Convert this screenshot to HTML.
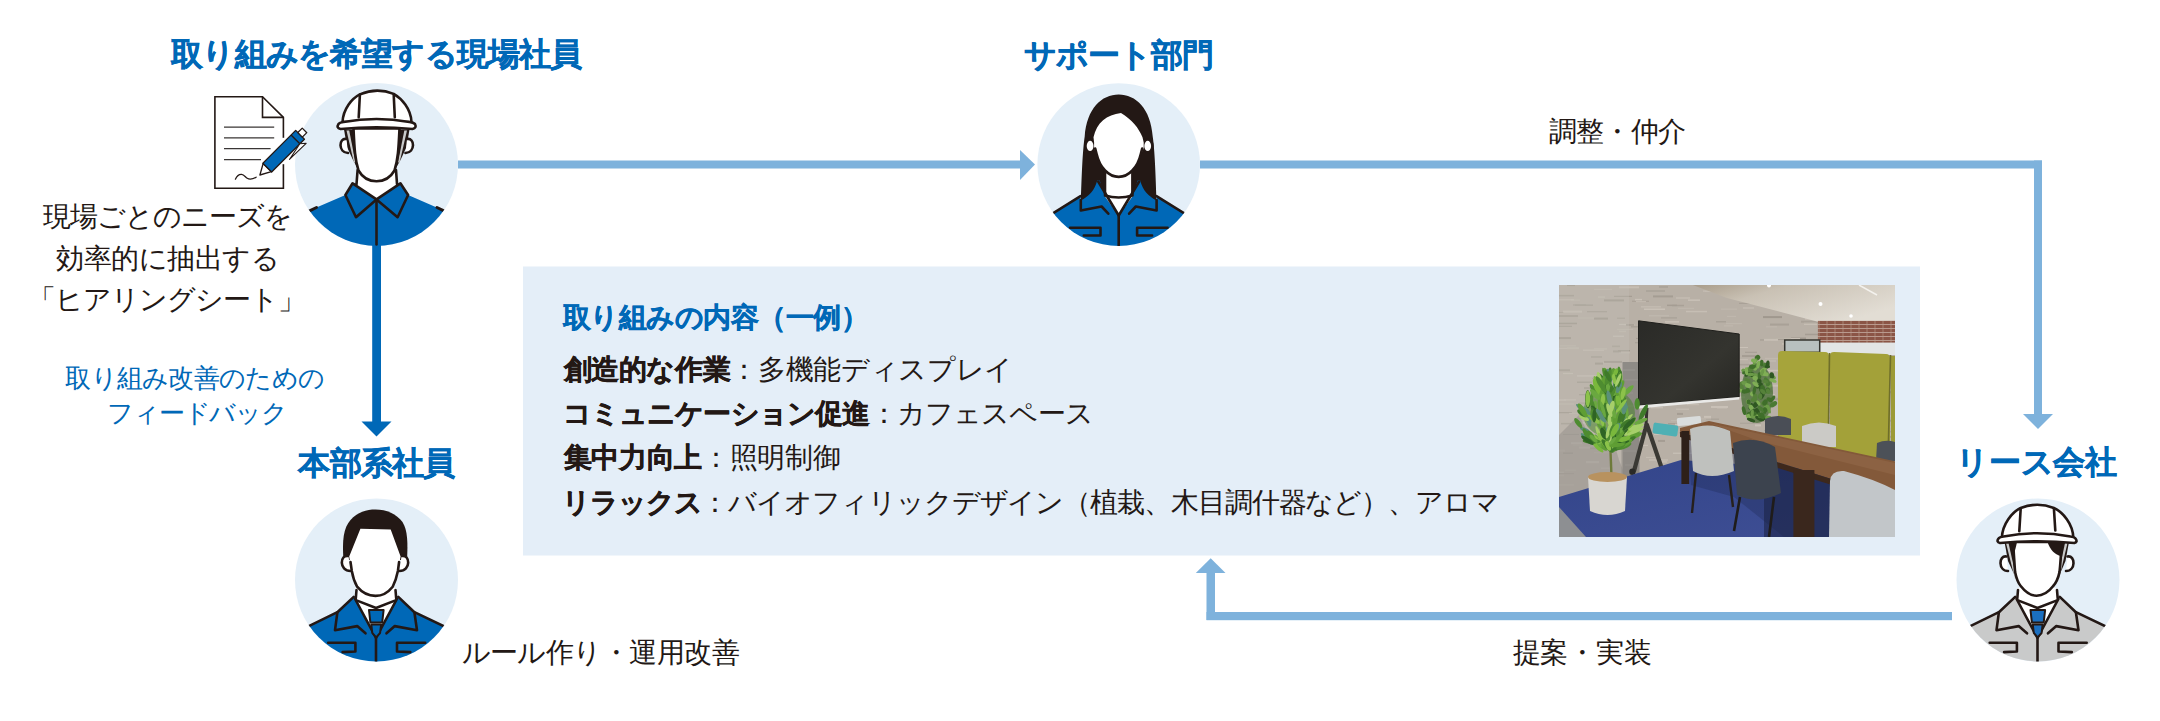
<!DOCTYPE html>
<html lang="ja">
<head>
<meta charset="utf-8">
<title>取り組みの流れ</title>
<style>
html,body{margin:0;padding:0;background:#fff;}
body{width:2160px;height:721px;position:relative;overflow:hidden;font-family:"Liberation Sans",sans-serif;color:#231815;}
svg.bg{position:absolute;left:0;top:0;}
.t{position:absolute;white-space:nowrap;line-height:1;}
.h{font-weight:bold;color:#0068b7;font-size:32px;-webkit-text-stroke:0.45px #0068b7;}
.n{font-size:27.5px;}
.b{font-size:25.7px;color:#0068b7;}
.bh{font-size:27.5px;font-weight:bold;color:#0068b7;-webkit-text-stroke:0.4px #0068b7;}
b{-webkit-text-stroke:0.4px #231815;}
</style>
</head>
<body>
<svg class="bg" width="2160" height="721" viewBox="0 0 2160 721">
  <!-- content box -->
  <rect x="523" y="266.5" width="1397" height="289" fill="#e4eef8"/>
  <!-- circles -->
  <circle cx="376.5" cy="164.5" r="81.5" fill="#e4eff8"/>
  <circle cx="1118.7" cy="164.5" r="81.3" fill="#e4eff8"/>
  <circle cx="376.5" cy="580" r="81.5" fill="#e4eff8"/>
  <circle cx="2038" cy="580" r="81.5" fill="#e4eff8"/>
  <!-- light arrows -->
  <g fill="#7eb2dc">
    <rect x="458" y="160.5" width="563" height="8"/>
    <polygon points="1020,150 1035,164.5 1020,180"/>
    <rect x="1200" y="160.5" width="842" height="8"/>
    <rect x="2034" y="160.5" width="8" height="254"/>
    <polygon points="2023,414 2053,414 2038,429"/>
    <rect x="1206.5" y="612" width="745.5" height="8.2"/>
    <rect x="1206.5" y="572" width="8.5" height="48"/>
    <polygon points="1195.8,573 1225.5,573 1210.7,558.3"/>
  </g>
  <!-- dark arrow -->
  <g fill="#0068b7">
    <rect x="372.2" y="240" width="8.8" height="182"/>
    <polygon points="361.5,421.6 391.5,421.6 376.5,436.6"/>
  </g>

  <defs>
    <clipPath id="cc"><circle cx="0" cy="0" r="81.4"/></clipPath>
  </defs>
  <!-- FIG1: helmet worker, blue -->
  <g transform="translate(376.5,164.5)" stroke="#231815" stroke-width="2.6" stroke-linejoin="round" stroke-linecap="round">
    <g clip-path="url(#cc)">
      <path d="M-95 58 L-31.1 30.5 L-23.9 18.8 L23.9 18.8 L31.6 30.5 L95 58.2 L95 95 L-95 95Z" fill="#0068b7" stroke="none"/>
      <path d="M-68 46.8 L-60 43" stroke-width="3"/>
      <path d="M68.5 46.8 L60.5 43" stroke-width="3"/>
      <path d="M-19 0 L-20 22 L0 35 L20.5 22 L19.5 0Z" fill="#fff" stroke="none"/>
      <path d="M-18.9 5.5 L-20 19.9 M19.5 5.5 L20.5 19.4" fill="none"/>
      <path d="M-23.9 18.8 L-31.1 30.5 L-20.5 52.7 L0 34.9Z" fill="#0068b7"/>
      <path d="M23.9 18.8 L31.6 30.5 L21.1 52.7 L0 34.9Z" fill="#0068b7"/>
      <path d="M0 34.9 L0 80" fill="none"/>
    </g>
    <path d="M-32.5 -35 L-21.5 -35 L-19 3.5 L-23.5 -4.5 L-29.5 -17.5Z" fill="#231815" stroke="none"/>
    <path d="M33 -35 L22 -35 L19.5 3.5 L24 -4.5 L30 -17.5Z" fill="#231815" stroke="none"/>
    <path d="M-30 -34 L-27.3 -34 L-21 -2 L-22.6 -2Z" fill="#c9caca" stroke="none"/>
    <path d="M30.5 -34 L27.8 -34 L21.5 -2 L23.1 -2Z" fill="#c9caca" stroke="none"/>
    <path d="M-30 -25.5 C-38 -27 -38.5 -12 -28.5 -11.5" fill="#fff"/>
    <path d="M30.5 -25.5 C38.5 -27 39 -12 29 -11.5" fill="#fff"/>
    <path d="M-23 -36 C-22 -15 -21.5 -5 -18 6 C-14 13 -7 16.8 0 16.8 C7 16.8 14 13 18 6 C21.5 -5 22 -15 23 -36Z" fill="#fff"/>
    <path d="M-34 -42.5 C-33.3 -56 -24.5 -66 -16.6 -70.1 Q0.3 -77.3 17.2 -70.6 C25 -66 34.3 -56 35 -42.5Z" fill="#fff"/>
    <path d="M-36 -35.5 Q-40.5 -36.5 -38 -40.5 Q-37 -42 -33 -42.5 Q0 -48.5 33 -42.5 Q37 -42 38.5 -40.5 Q40.5 -36.5 36 -35.5 Q0 -39.1 -36 -35.5Z" fill="#fff"/>
    <path d="M-16.6 -70 L-17.8 -47.3 M17.2 -70 L18.3 -47.3" fill="none"/>
  </g>
  <!-- FIG2: woman -->
  <g transform="translate(1118.7,164.5)" stroke="#231815" stroke-width="2.6" stroke-linejoin="round" stroke-linecap="round">
    <path d="M-38 42 C-37 10 -36 -15 -34 -28 C-32 -56 -17 -70 0 -70 C17 -70 32 -56 34 -28 C36 -15 37 10 38 42Z" fill="#231815" stroke="none"/>
    <g clip-path="url(#cc)">
      <path d="M-95 96 L-95 67.1 L-38.2 31.6 L-38 38 L38 38 L37.8 31.6 L95 67.1 L95 96Z" fill="#0068b7" stroke="none"/>
      <path d="M-90 64 L-38.2 31.6 M90 64 L37.8 31.6" fill="none" stroke-width="2.6"/>
      <path d="M-21.5 16 L-19 16 L-13.5 32 L0 51 L-10.4 49.2 L-17.1 42 L-37.9 46 L-37.9 36 C-30 32 -24 26 -21.5 16Z" fill="#0068b7" stroke="none"/>
      <path d="M21.5 16 L19 16 L13.5 32 L0 51 L10.4 49.2 L17.1 42 L37.9 46 L37.9 36 C30 32 24 26 21.5 16Z" fill="#0068b7" stroke="none"/>
      <path d="M-13.7 4 L-13.7 32 L0 51 L13.7 32 L13.7 4Z" fill="#fff" stroke="none"/>
      <path d="M-13.7 8 L-13.7 30 M13.7 8 L13.7 30" fill="none"/>
      <path d="M-13.7 31 Q0 35 13.7 31" fill="none"/>
      <path d="M-20.5 17 L0 51 L20.5 17" fill="none" stroke-width="2.6"/>
      <path d="M-37.9 35.5 L-37.9 46 L-17.1 42 L-10.4 49.2 M37.9 35.5 L37.9 46 L17.1 42 L10.4 49.2" fill="none" stroke-width="2.6"/>
      <path d="M0 51 L0 82" fill="none"/>
      <path d="M-48.7 63.2 L-18.2 63.2 L-18.2 71 L-34.9 71 M48.9 63.2 L18.4 63.2 L18.4 71 L33.4 71" fill="none" stroke-width="2.6"/>
    </g>
    <ellipse cx="-28.6" cy="-18.6" rx="4.7" ry="6.4" fill="#fff"/>
    <ellipse cx="29" cy="-18.6" rx="4.7" ry="6.4" fill="#fff"/>
    <path d="M-25.2 -27.2 C-22 -42 -12 -50 2.3 -51.6 C13 -45 20 -37 23.8 -27.2 L25 -22 L25 -16 L22.1 -10.5 C19 3 10 12.4 0 12.4 C-10 12.4 -19 3 -22.1 -10.5 L-24.6 -16 L-24.6 -22Z" fill="#fff" stroke="none"/>
    <path d="M-23.5 -16 L-22.1 -10.5 C-19 3 -10 12.4 0 12.4 C10 12.4 19 3 22.1 -10.5 L23.5 -16" fill="none"/>
  </g>


  <!-- DOCUMENT ICON -->
  <g stroke="#231815" stroke-linejoin="miter" fill="none">
    <path d="M214.9 96.8 L262.5 96.8 L283.4 117.4 L283.4 188.3 L214.9 188.3Z" fill="#fff" stroke-width="1.6"/>
    <path d="M262.5 96.8 L262.5 117.4 L283.4 117.4" stroke-width="1.6"/>
    <path d="M224 127.1 H274.2 M224 137.8 H274.2 M224 148.7 H270.6 M224 159.6 H261" stroke="#3a3635" stroke-width="1.3"/>
    <path d="M235.4 179.2 C237 175.5 239.5 174.2 241.5 174.3 C244 174.5 245.5 177.3 247.2 178.3 C249.5 179.6 252.5 179.3 256.1 177.2" stroke-width="1.3" stroke-linecap="round"/>
  </g>
  <rect x="281.5" y="137.8" width="4" height="26.4" fill="#fff"/>
  <g transform="translate(259.9,175) rotate(-45)" stroke="#231815" stroke-width="1.3" stroke-linejoin="round">
        <polygon points="0,0 10.4,-5.8 10.4,5.8" fill="#fff"/>
    <rect x="10.4" y="-6.2" width="46.4" height="12.4" fill="#0068b7"/>
    <path d="M50.3 -6.2 V6.2" stroke-width="1.4"/>
    <rect x="56.8" y="-3.2" width="6.3" height="6.4" fill="#fff"/>
    <polygon points="50.3,6.2 55.1,10.3 31.9,9.9" fill="#fff" stroke-width="1.1"/>
  </g>
  <!-- PHOTO -->
  <svg x="1559" y="285" width="336" height="252" viewBox="0 0 336 252" overflow="hidden">
    <defs>
      <pattern id="wallp" width="14" height="7" patternUnits="userSpaceOnUse">
        <rect width="14" height="7" fill="#b7b2aa"/>
        <rect y="0" width="14" height="2" fill="#c1bcb4"/>
        <rect x="3" y="3.5" width="9" height="1.5" fill="#aaa59d"/>
        <rect x="0" y="5.5" width="5" height="1" fill="#bdb8b0"/>
      </pattern>
      <pattern id="brickp" width="8" height="4" patternUnits="userSpaceOnUse">
        <rect width="8" height="4" fill="#8b5546"/>
        <rect y="3" width="8" height="1" fill="#b99a8e"/>
        <rect x="3.5" width="1" height="3" fill="#a88070"/>
      </pattern>
      <linearGradient id="ceilg" x1="0" y1="0" x2="1" y2="0.6">
        <stop offset="0" stop-color="#a89c8a"/><stop offset="0.35" stop-color="#c9c1b4"/><stop offset="1" stop-color="#e2ddd4"/>
      </linearGradient>
      <linearGradient id="tvg" x1="0" y1="0" x2="1" y2="1">
        <stop offset="0" stop-color="#2a2a27"/><stop offset="0.6" stop-color="#34342f"/><stop offset="1" stop-color="#262622"/>
      </linearGradient>
      <linearGradient id="carpg" x1="0" y1="0" x2="1" y2="1">
        <stop offset="0" stop-color="#33458a"/><stop offset="1" stop-color="#3f4f95"/>
      </linearGradient>
    </defs>
    <rect width="336" height="252" fill="#b8b0a6"/>
    <g><rect x="102" y="32.4" width="16" height="1.0" fill="#a59d93"/><rect x="117" y="12.5" width="14" height="1.0" fill="#c9c1b7"/><rect x="14" y="19.5" width="13" height="1.0" fill="#a0988e"/><rect x="207" y="203.8" width="15" height="2.0" fill="#c6beb4"/><rect x="6" y="184.6" width="11" height="1.2" fill="#c0b8ae"/><rect x="97" y="175.5" width="9" height="1.2" fill="#c0b8ae"/><rect x="236" y="121.3" width="16" height="2.0" fill="#a9a197"/><rect x="259" y="100.1" width="21" height="1.5" fill="#c6beb4"/><rect x="232" y="52.5" width="15" height="2.0" fill="#a0988e"/><rect x="145" y="130.9" width="7" height="2.0" fill="#c9c1b7"/><rect x="43" y="105.1" width="7" height="1.0" fill="#a0988e"/><rect x="263" y="175.9" width="11" height="1.5" fill="#a0988e"/><rect x="266" y="14.8" width="7" height="1.5" fill="#c0b8ae"/><rect x="12" y="157.2" width="11" height="2.0" fill="#c9c1b7"/><rect x="297" y="74.6" width="21" height="1.5" fill="#c6beb4"/><rect x="161" y="46.9" width="11" height="1.2" fill="#c9c1b7"/><rect x="18" y="96.6" width="15" height="1.2" fill="#a0988e"/><rect x="86" y="89.3" width="12" height="2.0" fill="#a59d93"/><rect x="19" y="32.5" width="17" height="1.0" fill="#c0b8ae"/><rect x="53" y="60.6" width="8" height="1.5" fill="#a9a197"/><rect x="320" y="148.5" width="14" height="1.0" fill="#c0b8ae"/><rect x="266" y="84.4" width="12" height="1.0" fill="#c9c1b7"/><rect x="12" y="14.5" width="9" height="1.2" fill="#c0b8ae"/><rect x="8" y="0.1" width="8" height="1.0" fill="#a0988e"/><rect x="-1" y="188.0" width="16" height="1.2" fill="#a9a197"/><rect x="198" y="101.9" width="8" height="2.0" fill="#a9a197"/><rect x="156" y="67.0" width="8" height="1.5" fill="#a9a197"/><rect x="277" y="34.7" width="6" height="1.5" fill="#c0b8ae"/><rect x="306" y="163.0" width="11" height="1.0" fill="#a9a197"/><rect x="169" y="195.3" width="12" height="1.2" fill="#c0b8ae"/><rect x="104" y="48.0" width="19" height="1.2" fill="#a9a197"/><rect x="246" y="48.7" width="14" height="1.5" fill="#a59d93"/><rect x="263" y="101.5" width="9" height="1.5" fill="#c0b8ae"/><rect x="332" y="205.3" width="12" height="1.2" fill="#c9c1b7"/><rect x="58" y="43.9" width="16" height="1.0" fill="#c0b8ae"/><rect x="109" y="138.3" width="19" height="1.0" fill="#a0988e"/><rect x="250" y="102.8" width="9" height="1.5" fill="#c0b8ae"/><rect x="127" y="86.3" width="21" height="1.2" fill="#c6beb4"/><rect x="-0" y="127.0" width="13" height="1.2" fill="#a0988e"/><rect x="329" y="141.3" width="12" height="1.2" fill="#c0b8ae"/><rect x="215" y="113.2" width="21" height="2.0" fill="#a59d93"/><rect x="276" y="45.4" width="10" height="1.5" fill="#c0b8ae"/><rect x="103" y="117.0" width="19" height="1.0" fill="#a9a197"/><rect x="301" y="142.4" width="19" height="2.0" fill="#a0988e"/><rect x="35" y="32.6" width="14" height="2.0" fill="#a0988e"/><rect x="-9" y="171.8" width="9" height="2.0" fill="#a59d93"/><rect x="183" y="70.1" width="14" height="2.0" fill="#a59d93"/><rect x="296" y="12.2" width="9" height="1.0" fill="#a0988e"/><rect x="146" y="6.0" width="20" height="1.0" fill="#c0b8ae"/><rect x="327" y="130.3" width="9" height="1.5" fill="#c0b8ae"/><rect x="269" y="109.2" width="10" height="1.5" fill="#a59d93"/><rect x="281" y="29.5" width="8" height="2.0" fill="#c0b8ae"/><rect x="73" y="15.7" width="17" height="1.0" fill="#a59d93"/><rect x="315" y="138.3" width="12" height="1.5" fill="#a9a197"/><rect x="66" y="204.8" width="12" height="2.0" fill="#c0b8ae"/><rect x="278" y="34.7" width="13" height="2.0" fill="#c6beb4"/><rect x="113" y="19.8" width="12" height="1.5" fill="#a9a197"/><rect x="233" y="82.6" width="14" height="1.5" fill="#c6beb4"/><rect x="29" y="197.5" width="10" height="1.0" fill="#c9c1b7"/><rect x="4" y="167.5" width="10" height="1.2" fill="#a0988e"/><rect x="273" y="55.6" width="8" height="2.0" fill="#a59d93"/><rect x="87" y="171.9" width="9" height="1.0" fill="#c6beb4"/><rect x="210" y="172.4" width="7" height="1.2" fill="#c6beb4"/><rect x="147" y="72.9" width="15" height="1.5" fill="#a59d93"/><rect x="172" y="51.3" width="8" height="1.2" fill="#c6beb4"/><rect x="60" y="67.1" width="11" height="1.2" fill="#c0b8ae"/><rect x="223" y="58.2" width="19" height="1.5" fill="#c6beb4"/><rect x="244" y="118.5" width="9" height="2.0" fill="#c9c1b7"/><rect x="27" y="176.1" width="13" height="2.0" fill="#c9c1b7"/><rect x="326" y="66.2" width="9" height="1.2" fill="#c0b8ae"/><rect x="242" y="30.0" width="22" height="1.0" fill="#a59d93"/><rect x="14" y="159.3" width="10" height="1.2" fill="#c0b8ae"/><rect x="281" y="187.2" width="17" height="1.5" fill="#a0988e"/><rect x="91" y="98.8" width="9" height="2.0" fill="#c9c1b7"/><rect x="323" y="209.1" width="15" height="1.2" fill="#c9c1b7"/><rect x="65" y="39.3" width="11" height="1.0" fill="#c0b8ae"/><rect x="217" y="53.4" width="18" height="1.0" fill="#c6beb4"/><rect x="40" y="126.2" width="12" height="1.5" fill="#c6beb4"/><rect x="19" y="205.9" width="20" height="1.2" fill="#a0988e"/><rect x="261" y="128.3" width="18" height="2.0" fill="#c0b8ae"/><rect x="204" y="31.1" width="19" height="2.0" fill="#a0988e"/><rect x="38" y="112.6" width="14" height="1.0" fill="#a0988e"/><rect x="266" y="152.9" width="21" height="1.2" fill="#c6beb4"/><rect x="36" y="77.6" width="8" height="2.0" fill="#a0988e"/><rect x="-3" y="114.3" width="10" height="1.5" fill="#c6beb4"/><rect x="249" y="108.1" width="15" height="1.0" fill="#a9a197"/><rect x="77" y="16.0" width="10" height="1.2" fill="#c0b8ae"/><rect x="328" y="106.2" width="12" height="2.0" fill="#a9a197"/><rect x="255" y="132.6" width="16" height="1.0" fill="#a9a197"/><rect x="78" y="159.8" width="11" height="1.2" fill="#c6beb4"/><rect x="158" y="209.1" width="8" height="1.2" fill="#a9a197"/><rect x="235" y="61.4" width="13" height="1.0" fill="#a0988e"/><rect x="59" y="210.3" width="21" height="1.0" fill="#c6beb4"/><rect x="274" y="208.1" width="13" height="1.5" fill="#c6beb4"/><rect x="16" y="19.4" width="18" height="1.5" fill="#a59d93"/><rect x="199" y="135.8" width="10" height="1.0" fill="#a59d93"/><rect x="162" y="188.4" width="12" height="1.2" fill="#c9c1b7"/><rect x="226" y="87.2" width="18" height="2.0" fill="#c9c1b7"/><rect x="32" y="71.2" width="11" height="1.5" fill="#a59d93"/><rect x="315" y="42.1" width="6" height="1.5" fill="#c6beb4"/><rect x="126" y="214.7" width="15" height="1.5" fill="#a9a197"/><rect x="286" y="60.3" width="7" height="1.5" fill="#a59d93"/><rect x="76" y="57.1" width="14" height="1.2" fill="#a9a197"/><rect x="296" y="174.6" width="16" height="1.2" fill="#a59d93"/><rect x="313" y="88.3" width="16" height="1.2" fill="#a9a197"/><rect x="158" y="196.1" width="15" height="1.2" fill="#c9c1b7"/><rect x="87" y="55.0" width="18" height="1.5" fill="#c6beb4"/><rect x="94" y="119.8" width="12" height="1.2" fill="#a59d93"/><rect x="62" y="194.8" width="14" height="1.2" fill="#c9c1b7"/><rect x="335" y="96.7" width="8" height="1.2" fill="#c6beb4"/><rect x="108" y="19.6" width="10" height="1.5" fill="#a59d93"/><rect x="297" y="161.2" width="13" height="2.0" fill="#a59d93"/><rect x="120" y="72.7" width="7" height="1.5" fill="#a9a197"/><rect x="34" y="108.2" width="16" height="1.2" fill="#c6beb4"/><rect x="123" y="138.8" width="13" height="1.5" fill="#a59d93"/><rect x="34" y="91.4" width="18" height="2.0" fill="#a9a197"/><rect x="-10" y="84.2" width="21" height="2.0" fill="#a59d93"/><rect x="261" y="48.1" width="8" height="1.0" fill="#a0988e"/><rect x="233" y="182.0" width="20" height="1.0" fill="#a59d93"/><rect x="-10" y="27.0" width="15" height="1.0" fill="#a9a197"/><rect x="323" y="134.7" width="14" height="2.0" fill="#a59d93"/><rect x="24" y="64.6" width="21" height="1.2" fill="#c6beb4"/><rect x="264" y="0.2" width="15" height="2.0" fill="#c9c1b7"/><rect x="213" y="190.0" width="14" height="1.2" fill="#c6beb4"/><rect x="322" y="151.5" width="11" height="1.0" fill="#c0b8ae"/><rect x="214" y="17.4" width="10" height="2.0" fill="#a59d93"/><rect x="161" y="149.6" width="17" height="1.5" fill="#a59d93"/><rect x="-8" y="62.8" width="20" height="1.0" fill="#c6beb4"/><rect x="98" y="176.3" width="10" height="1.2" fill="#c9c1b7"/><rect x="28" y="134.1" width="16" height="1.2" fill="#c0b8ae"/><rect x="10" y="127.9" width="21" height="1.0" fill="#c0b8ae"/><rect x="39" y="11.1" width="7" height="2.0" fill="#c0b8ae"/><rect x="296" y="157.5" width="22" height="1.2" fill="#c6beb4"/><rect x="216" y="112.8" width="13" height="1.5" fill="#a9a197"/><rect x="280" y="211.8" width="13" height="1.0" fill="#c9c1b7"/><rect x="18" y="90.3" width="20" height="1.2" fill="#c9c1b7"/><rect x="274" y="93.0" width="7" height="2.0" fill="#c0b8ae"/><rect x="308" y="41.5" width="12" height="2.0" fill="#c9c1b7"/><rect x="76" y="134.5" width="12" height="2.0" fill="#c6beb4"/><rect x="268" y="13.3" width="9" height="1.0" fill="#a9a197"/><rect x="116" y="72.0" width="21" height="1.0" fill="#c0b8ae"/><rect x="229" y="198.7" width="11" height="1.0" fill="#c6beb4"/><rect x="27" y="153.8" width="13" height="2.0" fill="#a9a197"/><rect x="272" y="28.5" width="14" height="1.0" fill="#a0988e"/><rect x="95" y="148.8" width="8" height="1.2" fill="#c9c1b7"/><rect x="149" y="168.5" width="16" height="1.2" fill="#c6beb4"/><rect x="76" y="13.9" width="7" height="1.5" fill="#c9c1b7"/><rect x="296" y="212.4" width="10" height="1.0" fill="#c9c1b7"/><rect x="162" y="152.6" width="13" height="1.2" fill="#c9c1b7"/><rect x="205" y="144.9" width="18" height="1.0" fill="#a9a197"/><rect x="92" y="121.9" width="12" height="1.5" fill="#c6beb4"/><rect x="54" y="50.6" width="11" height="1.2" fill="#c9c1b7"/><rect x="77" y="52.9" width="14" height="1.0" fill="#a59d93"/><rect x="25" y="102.1" width="19" height="2.0" fill="#a59d93"/><rect x="293" y="50.1" width="7" height="1.2" fill="#a9a197"/><rect x="167" y="38.2" width="16" height="1.0" fill="#c0b8ae"/><rect x="236" y="75.2" width="7" height="1.5" fill="#c6beb4"/><rect x="336" y="8.2" width="18" height="1.2" fill="#a9a197"/><rect x="132" y="79.9" width="16" height="1.0" fill="#c9c1b7"/><rect x="180" y="13.6" width="8" height="2.0" fill="#a59d93"/><rect x="211" y="19.6" width="9" height="1.5" fill="#c9c1b7"/><rect x="221" y="89.8" width="7" height="1.5" fill="#c6beb4"/><rect x="289" y="214.3" width="12" height="1.2" fill="#c9c1b7"/><rect x="60" y="1.3" width="20" height="2.0" fill="#c6beb4"/><rect x="131" y="189.8" width="13" height="1.2" fill="#c6beb4"/><rect x="181" y="137.7" width="21" height="1.0" fill="#a9a197"/><rect x="245" y="36.9" width="12" height="1.2" fill="#c6beb4"/><rect x="28" y="105.5" width="19" height="1.2" fill="#c6beb4"/><rect x="328" y="103.8" width="7" height="2.0" fill="#c0b8ae"/><rect x="205" y="177.3" width="9" height="1.2" fill="#a0988e"/><rect x="283" y="178.3" width="9" height="1.2" fill="#c0b8ae"/><rect x="44" y="77.2" width="8" height="1.2" fill="#c0b8ae"/><rect x="281" y="144.5" width="17" height="1.5" fill="#c0b8ae"/><rect x="148" y="182.5" width="18" height="2.0" fill="#c6beb4"/><rect x="137" y="141.7" width="13" height="2.0" fill="#c6beb4"/><rect x="204" y="105.2" width="10" height="2.0" fill="#a9a197"/><rect x="129" y="14.4" width="12" height="1.5" fill="#c9c1b7"/><rect x="165" y="141.3" width="7" height="1.2" fill="#c0b8ae"/><rect x="99" y="154.9" width="7" height="2.0" fill="#a59d93"/><rect x="-1" y="14.3" width="16" height="1.0" fill="#c9c1b7"/><rect x="90" y="174.4" width="19" height="1.2" fill="#c9c1b7"/><rect x="201" y="54.2" width="11" height="1.5" fill="#a9a197"/><rect x="40" y="108.0" width="21" height="1.2" fill="#a0988e"/><rect x="165" y="68.6" width="7" height="1.2" fill="#c0b8ae"/><rect x="314" y="146.1" width="20" height="1.2" fill="#a9a197"/><rect x="30" y="114.1" width="16" height="1.5" fill="#a9a197"/><rect x="182" y="124.7" width="20" height="1.0" fill="#c0b8ae"/><rect x="208" y="84.8" width="19" height="1.5" fill="#c9c1b7"/><rect x="190" y="77.5" width="18" height="2.0" fill="#c0b8ae"/><rect x="247" y="10.4" width="19" height="1.5" fill="#c0b8ae"/><rect x="311" y="192.6" width="18" height="1.0" fill="#c9c1b7"/><rect x="203" y="92.9" width="14" height="1.0" fill="#c6beb4"/><rect x="202" y="9.8" width="7" height="1.5" fill="#c0b8ae"/><rect x="114" y="48.2" width="15" height="1.2" fill="#c0b8ae"/><rect x="277" y="34.1" width="6" height="1.2" fill="#a9a197"/><rect x="23" y="137.2" width="20" height="1.5" fill="#c9c1b7"/><rect x="325" y="12.1" width="19" height="1.5" fill="#a0988e"/><rect x="144" y="201.5" width="18" height="1.2" fill="#c6beb4"/><rect x="5" y="114.3" width="12" height="1.2" fill="#c6beb4"/><rect x="-6" y="118.4" width="21" height="1.2" fill="#c0b8ae"/><rect x="200" y="109.0" width="16" height="1.2" fill="#c6beb4"/><rect x="94" y="10.4" width="20" height="2.0" fill="#a59d93"/><rect x="120" y="93.9" width="21" height="1.0" fill="#a9a197"/><rect x="51" y="214.3" width="10" height="1.0" fill="#c0b8ae"/><rect x="310" y="202.7" width="10" height="1.0" fill="#c0b8ae"/><rect x="225" y="147.4" width="21" height="1.5" fill="#c6beb4"/><rect x="20" y="109.1" width="9" height="1.2" fill="#a59d93"/><rect x="317" y="160.4" width="11" height="2.0" fill="#c6beb4"/><rect x="121" y="183.2" width="21" height="2.0" fill="#c0b8ae"/><rect x="231" y="184.4" width="13" height="1.2" fill="#a9a197"/><rect x="263" y="84.2" width="15" height="1.2" fill="#c6beb4"/><rect x="29" y="133.7" width="9" height="1.2" fill="#a59d93"/><rect x="4" y="148.9" width="16" height="1.0" fill="#a59d93"/><rect x="286" y="163.8" width="9" height="1.0" fill="#a0988e"/><rect x="317" y="23.0" width="9" height="1.0" fill="#c0b8ae"/><rect x="20" y="161.6" width="16" height="2.0" fill="#c6beb4"/><rect x="264" y="139.0" width="11" height="1.5" fill="#c6beb4"/><rect x="111" y="200.0" width="7" height="1.5" fill="#a0988e"/><rect x="164" y="183.0" width="16" height="1.0" fill="#a59d93"/><rect x="141" y="166.2" width="12" height="1.0" fill="#c6beb4"/><rect x="237" y="178.0" width="15" height="1.5" fill="#c6beb4"/><rect x="171" y="62.0" width="18" height="1.0" fill="#c9c1b7"/><rect x="23" y="149.5" width="19" height="2.0" fill="#a0988e"/><rect x="80" y="202.9" width="11" height="1.2" fill="#a59d93"/><rect x="162" y="23.6" width="16" height="1.0" fill="#c0b8ae"/><rect x="184" y="22.5" width="11" height="1.0" fill="#c9c1b7"/><rect x="299" y="160.2" width="13" height="1.0" fill="#c9c1b7"/><rect x="81" y="193.8" width="14" height="2.0" fill="#a0988e"/><rect x="71" y="99.1" width="15" height="1.0" fill="#c9c1b7"/><rect x="171" y="186.6" width="13" height="1.5" fill="#c9c1b7"/><rect x="228" y="55.3" width="10" height="1.5" fill="#c0b8ae"/><rect x="72" y="41.2" width="11" height="1.2" fill="#a59d93"/><rect x="240" y="129.6" width="12" height="1.2" fill="#c6beb4"/><rect x="80" y="205.3" width="22" height="1.2" fill="#a59d93"/><rect x="58" y="32.5" width="8" height="1.5" fill="#a9a197"/><rect x="85" y="23.5" width="21" height="1.5" fill="#c9c1b7"/><rect x="151" y="2.7" width="20" height="2.0" fill="#a0988e"/><rect x="329" y="63.7" width="6" height="1.5" fill="#a9a197"/><rect x="-8" y="52.1" width="20" height="2.0" fill="#a0988e"/><rect x="240" y="189.2" width="18" height="1.2" fill="#a0988e"/><rect x="33" y="93.0" width="10" height="1.0" fill="#a59d93"/><rect x="261" y="153.3" width="16" height="1.5" fill="#a9a197"/><rect x="147" y="133.6" width="13" height="1.2" fill="#a9a197"/><rect x="259" y="83.6" width="14" height="1.0" fill="#c0b8ae"/><rect x="65" y="154.0" width="21" height="1.2" fill="#c6beb4"/><rect x="283" y="98.2" width="9" height="2.0" fill="#c0b8ae"/><rect x="264" y="79.5" width="11" height="2.0" fill="#c0b8ae"/><rect x="54" y="110.5" width="21" height="1.5" fill="#a9a197"/><rect x="85" y="85.9" width="6" height="2.0" fill="#a0988e"/><rect x="232" y="75.7" width="10" height="1.2" fill="#c9c1b7"/><rect x="315" y="113.3" width="10" height="2.0" fill="#c6beb4"/><rect x="35" y="167.0" width="19" height="1.2" fill="#c0b8ae"/><rect x="239" y="175.1" width="8" height="2.0" fill="#c9c1b7"/><rect x="253" y="139.7" width="18" height="2.0" fill="#c6beb4"/><rect x="83" y="80.9" width="10" height="2.0" fill="#a9a197"/><rect x="-9" y="155.2" width="10" height="1.2" fill="#a9a197"/><rect x="156" y="92.1" width="16" height="1.5" fill="#c9c1b7"/><rect x="286" y="12.3" width="19" height="1.5" fill="#a59d93"/><rect x="174" y="74.2" width="15" height="1.0" fill="#c6beb4"/><rect x="217" y="53.8" width="8" height="1.2" fill="#a59d93"/><rect x="259" y="74.5" width="8" height="2.0" fill="#a59d93"/><rect x="201" y="147.9" width="22" height="1.0" fill="#a0988e"/><rect x="263" y="180.3" width="9" height="1.2" fill="#c0b8ae"/><rect x="280" y="144.3" width="8" height="1.0" fill="#c6beb4"/><rect x="276" y="101.7" width="15" height="2.0" fill="#c6beb4"/><rect x="232" y="53.0" width="9" height="1.0" fill="#c9c1b7"/><rect x="152" y="121.0" width="17" height="2.0" fill="#c9c1b7"/><rect x="336" y="145.3" width="9" height="1.5" fill="#a59d93"/><rect x="-3" y="9.9" width="18" height="1.5" fill="#a59d93"/><rect x="167" y="104.2" width="20" height="1.0" fill="#c9c1b7"/><rect x="206" y="72.8" width="20" height="1.5" fill="#c0b8ae"/><rect x="182" y="196.2" width="11" height="1.5" fill="#c0b8ae"/><rect x="8" y="62.2" width="12" height="2.0" fill="#c0b8ae"/><rect x="331" y="187.7" width="12" height="1.2" fill="#a59d93"/><rect x="104" y="68.2" width="11" height="1.0" fill="#a59d93"/><rect x="128" y="119.2" width="12" height="1.0" fill="#c6beb4"/><rect x="-8" y="40.8" width="21" height="1.0" fill="#a0988e"/><rect x="202" y="132.6" width="16" height="1.0" fill="#c0b8ae"/><rect x="209" y="134.4" width="9" height="1.2" fill="#a9a197"/><rect x="258" y="196.5" width="16" height="1.5" fill="#a59d93"/><rect x="262" y="120.9" width="10" height="1.5" fill="#c6beb4"/><rect x="100" y="92.6" width="16" height="1.0" fill="#c0b8ae"/><rect x="4" y="25.6" width="19" height="2.0" fill="#c6beb4"/><rect x="225" y="127.7" width="22" height="1.2" fill="#c9c1b7"/><rect x="180" y="17.8" width="14" height="1.2" fill="#a9a197"/><rect x="-8" y="147.0" width="8" height="1.0" fill="#c6beb4"/><rect x="35" y="3.8" width="18" height="1.2" fill="#c0b8ae"/><rect x="55" y="10.8" width="18" height="1.2" fill="#a59d93"/><rect x="91" y="119.9" width="14" height="1.5" fill="#a59d93"/><rect x="238" y="2.5" width="6" height="1.0" fill="#c9c1b7"/><rect x="242" y="35.7" width="20" height="2.0" fill="#a9a197"/><rect x="117" y="123.6" width="13" height="1.2" fill="#c6beb4"/><rect x="116" y="138.7" width="16" height="2.0" fill="#c9c1b7"/><rect x="317" y="168.7" width="15" height="1.5" fill="#c0b8ae"/><rect x="327" y="151.2" width="19" height="1.5" fill="#a0988e"/><rect x="328" y="178.7" width="16" height="1.5" fill="#a59d93"/><rect x="120" y="147.2" width="16" height="1.2" fill="#a9a197"/><rect x="228" y="69.1" width="10" height="1.2" fill="#a59d93"/><rect x="90" y="30.2" width="20" height="1.2" fill="#c0b8ae"/><rect x="227" y="196.5" width="12" height="1.0" fill="#c9c1b7"/><rect x="266" y="43.1" width="18" height="1.2" fill="#c6beb4"/><rect x="224" y="100.0" width="9" height="1.5" fill="#a59d93"/><rect x="264" y="98.8" width="7" height="1.5" fill="#a59d93"/><rect x="128" y="112.0" width="10" height="1.5" fill="#c0b8ae"/><rect x="60" y="45.7" width="7" height="1.5" fill="#c0b8ae"/><rect x="114" y="167.6" width="20" height="1.2" fill="#c9c1b7"/><rect x="119" y="22.8" width="16" height="1.0" fill="#c0b8ae"/><rect x="1" y="60.3" width="16" height="1.0" fill="#c0b8ae"/><rect x="158" y="121.9" width="10" height="1.5" fill="#c9c1b7"/><rect x="255" y="176.0" width="21" height="1.5" fill="#a9a197"/><rect x="60" y="38.9" width="7" height="1.0" fill="#c9c1b7"/><rect x="291" y="98.5" width="21" height="1.0" fill="#a0988e"/><rect x="127" y="25.8" width="21" height="1.5" fill="#c6beb4"/><rect x="212" y="205.6" width="17" height="2.0" fill="#c6beb4"/><rect x="118" y="50.6" width="18" height="1.2" fill="#c9c1b7"/><rect x="316" y="12.7" width="15" height="1.0" fill="#a59d93"/><rect x="79" y="110.4" width="18" height="2.0" fill="#c6beb4"/><rect x="100" y="1.2" width="9" height="1.5" fill="#a9a197"/><rect x="252" y="22.7" width="11" height="1.5" fill="#c9c1b7"/><rect x="157" y="36.2" width="10" height="1.2" fill="#a59d93"/><rect x="152" y="196.2" width="19" height="1.2" fill="#a59d93"/><rect x="17" y="133.0" width="12" height="1.2" fill="#a59d93"/><rect x="310" y="82.8" width="6" height="1.0" fill="#c9c1b7"/><rect x="102" y="50.3" width="8" height="1.5" fill="#c6beb4"/><rect x="245" y="38.8" width="13" height="1.2" fill="#c6beb4"/><rect x="82" y="88.5" width="8" height="1.5" fill="#a9a197"/><rect x="106" y="36.1" width="14" height="1.5" fill="#c9c1b7"/><rect x="30" y="210.4" width="7" height="1.2" fill="#a9a197"/><rect x="31" y="162.3" width="22" height="2.0" fill="#a59d93"/><rect x="310" y="21.0" width="11" height="1.2" fill="#c0b8ae"/><rect x="329" y="31.0" width="16" height="2.0" fill="#a9a197"/><rect x="167" y="95.2" width="19" height="1.5" fill="#c9c1b7"/><rect x="4" y="87.9" width="10" height="1.2" fill="#c6beb4"/><rect x="170" y="49.5" width="9" height="1.0" fill="#a0988e"/><rect x="243" y="163.7" width="9" height="1.2" fill="#a0988e"/><rect x="207" y="41.3" width="11" height="1.0" fill="#c0b8ae"/><rect x="170" y="180.8" width="21" height="1.5" fill="#c0b8ae"/><rect x="289" y="106.0" width="6" height="2.0" fill="#c0b8ae"/><rect x="82" y="40.0" width="19" height="1.5" fill="#c0b8ae"/><rect x="118" y="127.9" width="6" height="2.0" fill="#a59d93"/><rect x="32" y="153.6" width="19" height="1.5" fill="#a9a197"/><rect x="189" y="193.1" width="11" height="1.0" fill="#a9a197"/><rect x="144" y="5.5" width="19" height="1.2" fill="#c6beb4"/><rect x="67" y="39.2" width="8" height="1.5" fill="#a59d93"/><rect x="-3" y="199.2" width="18" height="1.5" fill="#c0b8ae"/><rect x="210" y="99.7" width="10" height="2.0" fill="#c6beb4"/><rect x="238" y="9.7" width="8" height="2.0" fill="#a9a197"/><rect x="28" y="26.1" width="20" height="1.2" fill="#a59d93"/><rect x="221" y="99.3" width="12" height="1.0" fill="#a9a197"/><rect x="230" y="128.4" width="16" height="1.0" fill="#c6beb4"/><rect x="259" y="72.8" width="10" height="1.5" fill="#a0988e"/><rect x="268" y="196.2" width="19" height="1.0" fill="#c6beb4"/><rect x="321" y="200.9" width="10" height="2.0" fill="#a59d93"/><rect x="116" y="114.1" width="7" height="2.0" fill="#c0b8ae"/><rect x="-3" y="30.0" width="22" height="2.0" fill="#a59d93"/><rect x="2" y="137.9" width="10" height="1.5" fill="#a59d93"/><rect x="205" y="53.9" width="14" height="2.0" fill="#c6beb4"/><rect x="89" y="65.7" width="16" height="1.0" fill="#c0b8ae"/><rect x="302" y="18.2" width="15" height="1.2" fill="#c0b8ae"/><rect x="35" y="63.1" width="13" height="1.5" fill="#c0b8ae"/><rect x="20" y="117.5" width="19" height="1.2" fill="#a59d93"/><rect x="180" y="78.9" width="20" height="1.5" fill="#a9a197"/><rect x="273" y="6.7" width="11" height="1.2" fill="#c9c1b7"/><rect x="325" y="85.2" width="21" height="1.2" fill="#a59d93"/><rect x="102" y="70.0" width="10" height="1.2" fill="#c6beb4"/><rect x="45" y="14.4" width="20" height="2.0" fill="#a0988e"/><rect x="124" y="94.6" width="18" height="1.0" fill="#c0b8ae"/><rect x="246" y="33.2" width="11" height="1.5" fill="#c6beb4"/><rect x="203" y="182.7" width="19" height="1.0" fill="#a0988e"/><rect x="309" y="214.1" width="10" height="1.2" fill="#c6beb4"/><rect x="-9" y="164.6" width="15" height="2.0" fill="#c0b8ae"/><rect x="42" y="182.7" width="10" height="1.0" fill="#c9c1b7"/><rect x="230" y="61.9" width="12" height="1.5" fill="#c0b8ae"/><rect x="196" y="139.4" width="6" height="2.0" fill="#c9c1b7"/><rect x="54" y="65.4" width="8" height="2.0" fill="#a59d93"/><rect x="274" y="71.0" width="22" height="1.2" fill="#a59d93"/><rect x="326" y="191.6" width="21" height="1.0" fill="#c0b8ae"/><rect x="300" y="64.5" width="15" height="1.5" fill="#c9c1b7"/><rect x="169" y="111.2" width="17" height="2.0" fill="#c6beb4"/><rect x="196" y="75.5" width="21" height="1.0" fill="#c6beb4"/><rect x="132" y="107.7" width="16" height="1.2" fill="#a9a197"/><rect x="158" y="94.6" width="16" height="1.5" fill="#a0988e"/><rect x="272" y="36.7" width="11" height="1.0" fill="#a0988e"/><rect x="51" y="141.0" width="11" height="1.5" fill="#a0988e"/><rect x="297" y="90.5" width="9" height="1.5" fill="#a59d93"/><rect x="165" y="40.4" width="9" height="1.0" fill="#c0b8ae"/><rect x="210" y="9.1" width="13" height="1.0" fill="#c0b8ae"/><rect x="181" y="197.2" width="12" height="1.0" fill="#a0988e"/><rect x="0" y="37.7" width="18" height="1.5" fill="#a0988e"/><rect x="168" y="30.9" width="9" height="1.0" fill="#c0b8ae"/><rect x="253" y="22.9" width="8" height="1.2" fill="#a9a197"/><rect x="275" y="131.8" width="19" height="1.0" fill="#a0988e"/><rect x="257" y="69.4" width="17" height="1.5" fill="#c6beb4"/><rect x="82" y="21.4" width="20" height="1.0" fill="#c9c1b7"/><rect x="206" y="4.2" width="10" height="2.0" fill="#a59d93"/><rect x="142" y="133.3" width="10" height="1.0" fill="#c0b8ae"/><rect x="286" y="67.7" width="20" height="2.0" fill="#c0b8ae"/><rect x="77" y="190.7" width="22" height="1.0" fill="#c9c1b7"/><rect x="224" y="125.7" width="13" height="2.0" fill="#a9a197"/><rect x="-2" y="186.7" width="7" height="1.2" fill="#c6beb4"/><rect x="-7" y="189.7" width="12" height="1.5" fill="#c0b8ae"/><rect x="292" y="72.2" width="16" height="1.0" fill="#c9c1b7"/><rect x="182" y="83.3" width="13" height="1.5" fill="#c6beb4"/><rect x="87" y="5.4" width="19" height="1.2" fill="#a59d93"/><rect x="58" y="117.1" width="19" height="2.0" fill="#c6beb4"/><rect x="45" y="75.9" width="18" height="2.0" fill="#a0988e"/><rect x="62" y="204.5" width="14" height="1.2" fill="#a0988e"/><rect x="35" y="151.9" width="10" height="2.0" fill="#a9a197"/><rect x="175" y="86.9" width="14" height="1.2" fill="#a59d93"/><rect x="225" y="19.7" width="20" height="2.0" fill="#c0b8ae"/><rect x="186" y="66.8" width="12" height="1.0" fill="#a59d93"/><rect x="101" y="142.5" width="8" height="1.5" fill="#a9a197"/><rect x="57" y="154.5" width="7" height="1.5" fill="#c0b8ae"/><rect x="128" y="76.5" width="20" height="2.0" fill="#a0988e"/><rect x="288" y="28.4" width="10" height="1.0" fill="#c0b8ae"/><rect x="229" y="192.8" width="6" height="2.0" fill="#c9c1b7"/><rect x="112" y="135.2" width="9" height="1.0" fill="#c0b8ae"/><rect x="244" y="153.2" width="7" height="1.0" fill="#a9a197"/><rect x="59" y="65.2" width="12" height="1.0" fill="#a0988e"/><rect x="211" y="38.6" width="19" height="2.0" fill="#a9a197"/></g>
    <rect x="0" y="0" width="70" height="252" fill="#c4bfb8" opacity="0.35"/>
    <polygon points="133.8,0 336,0 336,35.8 258.9,36.7 168,13.1" fill="url(#ceilg)"/>
    <circle cx="261.5" cy="19" r="2" fill="#fff"/><circle cx="292" cy="31" r="1.8" fill="#fff"/><circle cx="210" cy="0.5" r="2" fill="#fff"/>
    <path d="M300 0 L318 10" stroke="#f4f2ee" stroke-width="1.5"/>
    <rect x="258.9" y="35.8" width="77.1" height="21.9" fill="url(#brickp)"/>
    <rect x="258.9" y="57.7" width="77.1" height="12.3" fill="#e2e5e6"/>
    <rect x="225.7" y="55" width="35" height="12.3" fill="#b8c0bf" stroke="#34342f" stroke-width="1.5"/>
    <!-- shadow of plant on wall -->
    <rect x="63.5" y="77" width="17" height="115" fill="#8e8b86"/><path d="M64 85h12M66 95h13M64 108h10M67 121h12M64 134h14M66 150h11M64 166h13M66 180h10" stroke="#9a9792" stroke-width="1.2"/>
    <path d="M0 150 L20 130 L35 160 L50 140 L60 175 L70 200 L0 214Z" fill="#8f8a84" opacity="0.45"/>
    <rect x="62" y="95" width="18" height="95" fill="#8e8a85" opacity="0.35"/>
    <!-- panels -->
    <path d="M219 70 Q219 66 223 66 L266 67 Q270 67 270 71 L270 176 L219 176Z" fill="#a6a43b"/>
    <path d="M271 70 Q271 67 275 67 L327 69 Q331 69 331 73 L331 176 L271 176Z" fill="#a3a139"/>
    <rect x="332" y="71" width="4" height="105" fill="#9c9a36"/>
    <path d="M270.5 68 L269 176 M331.5 70 L329 176" stroke="#6f6e2a" stroke-width="1.6"/>
    <!-- right plant -->
    <ellipse cx="198" cy="108" rx="16" ry="30" fill="#3e6a2c" opacity="0.7"/>
    <g><ellipse cx="185.3" cy="85.9" rx="3.1" ry="2.2" fill="#6b9a48" transform="rotate(25 185.3 85.9)"/><ellipse cx="198.6" cy="96.2" rx="2.7" ry="1.9" fill="#7fae55" transform="rotate(39 198.6 96.2)"/><ellipse cx="202.7" cy="110.5" rx="4.1" ry="2.5" fill="#2f5722" transform="rotate(119 202.7 110.5)"/><ellipse cx="200.1" cy="96.0" rx="2.7" ry="2.3" fill="#2f5722" transform="rotate(42 200.1 96.0)"/><ellipse cx="202.8" cy="78.1" rx="3.4" ry="1.9" fill="#3f6e2a" transform="rotate(88 202.8 78.1)"/><ellipse cx="213.5" cy="91.4" rx="3.9" ry="1.7" fill="#6b9a48" transform="rotate(36 213.5 91.4)"/><ellipse cx="207.7" cy="95.8" rx="3.9" ry="2.0" fill="#4a7a33" transform="rotate(62 207.7 95.8)"/><ellipse cx="195.2" cy="82.3" rx="3.7" ry="2.2" fill="#7fae55" transform="rotate(56 195.2 82.3)"/><ellipse cx="212.8" cy="90.5" rx="3.3" ry="2.3" fill="#2f5722" transform="rotate(84 212.8 90.5)"/><ellipse cx="191.7" cy="89.2" rx="2.5" ry="1.8" fill="#2f5722" transform="rotate(102 191.7 89.2)"/><ellipse cx="189.4" cy="117.4" rx="2.9" ry="2.0" fill="#7fae55" transform="rotate(61 189.4 117.4)"/><ellipse cx="205.5" cy="86.7" rx="2.7" ry="1.5" fill="#7fae55" transform="rotate(74 205.5 86.7)"/><ellipse cx="195.0" cy="90.8" rx="4.2" ry="2.4" fill="#6b9a48" transform="rotate(174 195.0 90.8)"/><ellipse cx="193.9" cy="126.7" rx="3.9" ry="1.8" fill="#6b9a48" transform="rotate(65 193.9 126.7)"/><ellipse cx="186.9" cy="87.5" rx="3.9" ry="1.7" fill="#3f6e2a" transform="rotate(167 186.9 87.5)"/><ellipse cx="199.7" cy="129.7" rx="4.0" ry="1.6" fill="#7fae55" transform="rotate(159 199.7 129.7)"/><ellipse cx="204.9" cy="126.2" rx="3.0" ry="1.6" fill="#3f6e2a" transform="rotate(56 204.9 126.2)"/><ellipse cx="205.8" cy="119.3" rx="3.9" ry="2.5" fill="#56823a" transform="rotate(29 205.8 119.3)"/><ellipse cx="202.4" cy="105.4" rx="3.6" ry="1.9" fill="#2f5722" transform="rotate(66 202.4 105.4)"/><ellipse cx="204.0" cy="105.9" rx="3.8" ry="1.9" fill="#4a7a33" transform="rotate(32 204.0 105.9)"/><ellipse cx="198.5" cy="80.6" rx="2.6" ry="1.6" fill="#3f6e2a" transform="rotate(159 198.5 80.6)"/><ellipse cx="191.2" cy="129.7" rx="3.5" ry="2.2" fill="#3f6e2a" transform="rotate(29 191.2 129.7)"/><ellipse cx="198.3" cy="126.2" rx="3.3" ry="2.2" fill="#2f5722" transform="rotate(66 198.3 126.2)"/><ellipse cx="204.6" cy="84.5" rx="4.2" ry="1.7" fill="#7fae55" transform="rotate(149 204.6 84.5)"/><ellipse cx="200.4" cy="100.6" rx="3.9" ry="2.1" fill="#2f5722" transform="rotate(144 200.4 100.6)"/><ellipse cx="184.5" cy="97.6" rx="3.8" ry="1.7" fill="#56823a" transform="rotate(175 184.5 97.6)"/><ellipse cx="197.0" cy="119.2" rx="4.1" ry="2.4" fill="#2f5722" transform="rotate(124 197.0 119.2)"/><ellipse cx="195.1" cy="114.9" rx="3.3" ry="2.4" fill="#56823a" transform="rotate(9 195.1 114.9)"/><ellipse cx="205.7" cy="80.1" rx="2.6" ry="1.8" fill="#4a7a33" transform="rotate(97 205.7 80.1)"/><ellipse cx="208.9" cy="99.5" rx="4.3" ry="2.3" fill="#6b9a48" transform="rotate(31 208.9 99.5)"/><ellipse cx="182.4" cy="101.8" rx="4.2" ry="2.1" fill="#56823a" transform="rotate(71 182.4 101.8)"/><ellipse cx="202.2" cy="124.0" rx="4.5" ry="1.9" fill="#4a7a33" transform="rotate(39 202.2 124.0)"/><ellipse cx="190.2" cy="130.9" rx="3.4" ry="2.3" fill="#7fae55" transform="rotate(168 190.2 130.9)"/><ellipse cx="189.0" cy="105.2" rx="2.7" ry="1.8" fill="#3f6e2a" transform="rotate(49 189.0 105.2)"/><ellipse cx="200.5" cy="90.6" rx="3.3" ry="1.8" fill="#3f6e2a" transform="rotate(87 200.5 90.6)"/><ellipse cx="193.2" cy="89.7" rx="2.6" ry="1.6" fill="#2f5722" transform="rotate(121 193.2 89.7)"/><ellipse cx="185.0" cy="125.7" rx="4.5" ry="1.9" fill="#3f6e2a" transform="rotate(75 185.0 125.7)"/><ellipse cx="209.1" cy="98.9" rx="2.6" ry="2.1" fill="#4a7a33" transform="rotate(149 209.1 98.9)"/><ellipse cx="189.1" cy="84.8" rx="3.1" ry="1.7" fill="#6b9a48" transform="rotate(103 189.1 84.8)"/><ellipse cx="199.4" cy="117.9" rx="3.0" ry="1.5" fill="#7fae55" transform="rotate(56 199.4 117.9)"/><ellipse cx="198.5" cy="72.7" rx="2.9" ry="2.5" fill="#3f6e2a" transform="rotate(138 198.5 72.7)"/><ellipse cx="189.5" cy="88.7" rx="4.3" ry="2.0" fill="#2f5722" transform="rotate(145 189.5 88.7)"/><ellipse cx="209.8" cy="124.2" rx="4.5" ry="1.6" fill="#6b9a48" transform="rotate(72 209.8 124.2)"/><ellipse cx="205.4" cy="89.0" rx="4.3" ry="1.5" fill="#7fae55" transform="rotate(25 205.4 89.0)"/><ellipse cx="191.7" cy="121.3" rx="3.5" ry="1.8" fill="#2f5722" transform="rotate(113 191.7 121.3)"/><ellipse cx="196.2" cy="93.2" rx="2.6" ry="2.2" fill="#7fae55" transform="rotate(17 196.2 93.2)"/><ellipse cx="192.1" cy="122.4" rx="2.9" ry="2.2" fill="#7fae55" transform="rotate(55 192.1 122.4)"/><ellipse cx="187.4" cy="95.6" rx="2.8" ry="1.9" fill="#56823a" transform="rotate(78 187.4 95.6)"/><ellipse cx="180.3" cy="106.2" rx="3.3" ry="1.8" fill="#7fae55" transform="rotate(151 180.3 106.2)"/><ellipse cx="201.2" cy="111.4" rx="3.1" ry="2.0" fill="#56823a" transform="rotate(90 201.2 111.4)"/><ellipse cx="208.1" cy="132.4" rx="4.1" ry="1.6" fill="#6b9a48" transform="rotate(171 208.1 132.4)"/><ellipse cx="191.6" cy="84.5" rx="3.2" ry="2.5" fill="#56823a" transform="rotate(131 191.6 84.5)"/><ellipse cx="203.8" cy="134.0" rx="2.6" ry="2.1" fill="#2f5722" transform="rotate(160 203.8 134.0)"/><ellipse cx="210.8" cy="114.7" rx="3.5" ry="2.1" fill="#3f6e2a" transform="rotate(22 210.8 114.7)"/><ellipse cx="206.6" cy="122.6" rx="3.4" ry="2.0" fill="#6b9a48" transform="rotate(90 206.6 122.6)"/><ellipse cx="193.5" cy="108.8" rx="2.6" ry="2.4" fill="#7fae55" transform="rotate(113 193.5 108.8)"/><ellipse cx="196.1" cy="112.3" rx="3.7" ry="2.4" fill="#56823a" transform="rotate(97 196.1 112.3)"/><ellipse cx="191.8" cy="89.4" rx="3.7" ry="1.7" fill="#6b9a48" transform="rotate(178 191.8 89.4)"/><ellipse cx="194.5" cy="131.0" rx="2.8" ry="2.5" fill="#6b9a48" transform="rotate(20 194.5 131.0)"/><ellipse cx="208.4" cy="81.7" rx="2.7" ry="1.6" fill="#2f5722" transform="rotate(179 208.4 81.7)"/><ellipse cx="205.6" cy="89.0" rx="4.1" ry="2.0" fill="#7fae55" transform="rotate(3 205.6 89.0)"/><ellipse cx="195.4" cy="105.3" rx="4.4" ry="1.7" fill="#3f6e2a" transform="rotate(100 195.4 105.3)"/><ellipse cx="208.3" cy="105.4" rx="3.0" ry="2.3" fill="#3f6e2a" transform="rotate(139 208.3 105.4)"/><ellipse cx="199.8" cy="133.6" rx="4.1" ry="1.7" fill="#2f5722" transform="rotate(32 199.8 133.6)"/><ellipse cx="192.0" cy="135.2" rx="4.4" ry="1.7" fill="#2f5722" transform="rotate(21 192.0 135.2)"/><ellipse cx="186.5" cy="98.4" rx="4.2" ry="2.1" fill="#6b9a48" transform="rotate(13 186.5 98.4)"/><ellipse cx="202.7" cy="131.6" rx="4.0" ry="1.7" fill="#4a7a33" transform="rotate(179 202.7 131.6)"/><ellipse cx="193.6" cy="127.5" rx="3.9" ry="2.3" fill="#2f5722" transform="rotate(118 193.6 127.5)"/><ellipse cx="187.5" cy="86.3" rx="4.0" ry="1.7" fill="#7fae55" transform="rotate(84 187.5 86.3)"/><ellipse cx="213.9" cy="113.5" rx="3.2" ry="1.7" fill="#3f6e2a" transform="rotate(124 213.9 113.5)"/><ellipse cx="206.5" cy="96.5" rx="3.1" ry="1.9" fill="#56823a" transform="rotate(13 206.5 96.5)"/><ellipse cx="189.6" cy="97.5" rx="3.7" ry="1.8" fill="#56823a" transform="rotate(91 189.6 97.5)"/><ellipse cx="213.9" cy="95.6" rx="3.9" ry="1.7" fill="#7fae55" transform="rotate(21 213.9 95.6)"/><ellipse cx="203.3" cy="87.3" rx="3.5" ry="1.7" fill="#6b9a48" transform="rotate(108 203.3 87.3)"/><ellipse cx="196.1" cy="76.4" rx="3.3" ry="1.8" fill="#6b9a48" transform="rotate(119 196.1 76.4)"/><ellipse cx="189.6" cy="117.0" rx="2.5" ry="2.1" fill="#3f6e2a" transform="rotate(74 189.6 117.0)"/><ellipse cx="189.1" cy="100.6" rx="3.2" ry="2.3" fill="#7fae55" transform="rotate(19 189.1 100.6)"/><ellipse cx="203.7" cy="102.8" rx="2.9" ry="2.3" fill="#3f6e2a" transform="rotate(67 203.7 102.8)"/><ellipse cx="206.0" cy="117.5" rx="3.2" ry="2.4" fill="#3f6e2a" transform="rotate(120 206.0 117.5)"/><ellipse cx="186.1" cy="106.4" rx="3.5" ry="2.2" fill="#3f6e2a" transform="rotate(175 186.1 106.4)"/><ellipse cx="194.2" cy="128.3" rx="3.8" ry="2.2" fill="#3f6e2a" transform="rotate(12 194.2 128.3)"/><ellipse cx="196.6" cy="99.3" rx="3.8" ry="1.7" fill="#7fae55" transform="rotate(38 196.6 99.3)"/><ellipse cx="193.3" cy="81.7" rx="3.3" ry="2.2" fill="#3f6e2a" transform="rotate(1 193.3 81.7)"/><ellipse cx="214.5" cy="119.3" rx="4.1" ry="2.4" fill="#4a7a33" transform="rotate(146 214.5 119.3)"/><ellipse cx="206.3" cy="124.8" rx="2.7" ry="2.0" fill="#3f6e2a" transform="rotate(67 206.3 124.8)"/><ellipse cx="193.2" cy="128.6" rx="4.3" ry="1.6" fill="#6b9a48" transform="rotate(96 193.2 128.6)"/><ellipse cx="199.2" cy="79.6" rx="4.1" ry="1.8" fill="#7fae55" transform="rotate(102 199.2 79.6)"/><ellipse cx="203.9" cy="106.7" rx="3.1" ry="1.9" fill="#56823a" transform="rotate(44 203.9 106.7)"/><ellipse cx="194.9" cy="75.7" rx="2.9" ry="2.0" fill="#7fae55" transform="rotate(19 194.9 75.7)"/><ellipse cx="209.1" cy="106.3" rx="2.8" ry="2.1" fill="#56823a" transform="rotate(73 209.1 106.3)"/><ellipse cx="202.0" cy="130.7" rx="4.4" ry="1.9" fill="#3f6e2a" transform="rotate(41 202.0 130.7)"/><ellipse cx="208.7" cy="79.4" rx="4.0" ry="1.9" fill="#2f5722" transform="rotate(96 208.7 79.4)"/><ellipse cx="203.1" cy="129.6" rx="2.6" ry="1.9" fill="#3f6e2a" transform="rotate(39 203.1 129.6)"/></g>
    <!-- TV -->
    <polygon points="79.5,35.8 180.2,49 180.2,111.9 79.5,120.6" fill="url(#tvg)" stroke="#1f1f1c" stroke-width="1"/>
    <polygon points="79.5,120.6 180.2,111.9 180.2,114.5 79.5,123.5" fill="#e9e9e7"/>
    <path d="M88 123 L87 140" stroke="#35342f" stroke-width="3"/>
    <path d="M87.4 140 L75.2 185.4 M88 140 L111.9 210" stroke="#3a3934" stroke-width="4.2" stroke-linecap="round"/>
    <circle cx="73.4" cy="186.8" r="3.2" fill="#2a2a27"/><circle cx="108.4" cy="210.5" r="3.6" fill="#2a2a27"/>
    <rect x="94" y="139" width="25" height="11" rx="2" fill="#4fb0b4" transform="rotate(8 106 144)"/>
    <rect x="118" y="132" width="24" height="8" rx="1.5" fill="#d9dcdc" transform="rotate(-5 130 136)"/>
    <!-- carpet -->
    <polygon points="0,212 70,190.7 122,175 336,190 336,252 0,252" fill="url(#carpg)"/>
    <polygon points="0,222 0,252 27,252" fill="#8d8f92"/>
    <polygon points="128,152 336,214 336,252 225,252 175,212 132,200" fill="#1f2a55" opacity="0.35"/>
    <polygon points="205,168 272,190 272,252 205,252" fill="#1c2447" opacity="0.6"/>
    <!-- left plant -->
    <path d="M50.5 140 L52.5 192" stroke="#6e7a3a" stroke-width="2.4"/>
    <ellipse cx="50" cy="128" rx="26" ry="24" fill="#4a8530" opacity="0.55"/>
    <g><ellipse cx="55.1" cy="123.7" rx="7.3" ry="2.3" fill="#3f7a2a" transform="rotate(-86 55.1 123.7)"/><ellipse cx="49.6" cy="148.6" rx="7.0" ry="1.8" fill="#5a8f7a" transform="rotate(-114 49.6 148.6)"/><ellipse cx="58.7" cy="149.0" rx="9.3" ry="2.4" fill="#3f7a2a" transform="rotate(-35 58.7 149.0)"/><ellipse cx="67.7" cy="136.0" rx="9.0" ry="2.3" fill="#4e8c30" transform="rotate(-88 67.7 136.0)"/><ellipse cx="54.3" cy="114.4" rx="6.3" ry="1.6" fill="#5f9e34" transform="rotate(-102 54.3 114.4)"/><ellipse cx="35.3" cy="124.1" rx="8.8" ry="2.4" fill="#6aa840" transform="rotate(-81 35.3 124.1)"/><ellipse cx="51.6" cy="145.4" rx="5.5" ry="1.7" fill="#8cc24a" transform="rotate(-85 51.6 145.4)"/><ellipse cx="78.2" cy="118.9" rx="5.9" ry="2.7" fill="#4e8c30" transform="rotate(-89 78.2 118.9)"/><ellipse cx="60.7" cy="118.1" rx="5.9" ry="2.4" fill="#6aa840" transform="rotate(-74 60.7 118.1)"/><ellipse cx="45.8" cy="95.3" rx="5.5" ry="1.9" fill="#5f9e34" transform="rotate(-79 45.8 95.3)"/><ellipse cx="50.4" cy="88.3" rx="5.8" ry="2.2" fill="#3f7a2a" transform="rotate(-80 50.4 88.3)"/><ellipse cx="45.3" cy="121.3" rx="5.0" ry="2.6" fill="#8cc24a" transform="rotate(-68 45.3 121.3)"/><ellipse cx="38.7" cy="161.9" rx="7.7" ry="2.3" fill="#7ab83c" transform="rotate(-136 38.7 161.9)"/><ellipse cx="43.0" cy="161.3" rx="6.5" ry="2.0" fill="#5f9e34" transform="rotate(-139 43.0 161.3)"/><ellipse cx="43.7" cy="94.2" rx="6.7" ry="2.3" fill="#3f7a2a" transform="rotate(-125 43.7 94.2)"/><ellipse cx="50.4" cy="159.2" rx="5.8" ry="1.8" fill="#2f6424" transform="rotate(-74 50.4 159.2)"/><ellipse cx="40.1" cy="149.6" rx="9.2" ry="1.8" fill="#a6cf6a" transform="rotate(-111 40.1 149.6)"/><ellipse cx="55.5" cy="154.0" rx="5.2" ry="2.8" fill="#2f6424" transform="rotate(-92 55.5 154.0)"/><ellipse cx="44.5" cy="144.2" rx="7.2" ry="2.2" fill="#5f9e34" transform="rotate(-83 44.5 144.2)"/><ellipse cx="50.4" cy="98.7" rx="5.3" ry="1.9" fill="#2f6424" transform="rotate(-84 50.4 98.7)"/><ellipse cx="25.8" cy="144.8" rx="5.2" ry="1.9" fill="#5a8f7a" transform="rotate(-156 25.8 144.8)"/><ellipse cx="29.4" cy="132.4" rx="9.4" ry="2.4" fill="#5a8f7a" transform="rotate(-100 29.4 132.4)"/><ellipse cx="34.0" cy="133.3" rx="9.1" ry="2.4" fill="#7ab83c" transform="rotate(-147 34.0 133.3)"/><ellipse cx="53.4" cy="89.3" rx="6.4" ry="2.8" fill="#5f9e34" transform="rotate(-74 53.4 89.3)"/><ellipse cx="45.7" cy="123.8" rx="8.3" ry="1.8" fill="#6aa840" transform="rotate(-71 45.7 123.8)"/><ellipse cx="61.6" cy="116.3" rx="6.9" ry="2.5" fill="#4e8c30" transform="rotate(-55 61.6 116.3)"/><ellipse cx="58.4" cy="132.4" rx="7.7" ry="1.7" fill="#5f9e34" transform="rotate(-72 58.4 132.4)"/><ellipse cx="64.7" cy="161.5" rx="8.3" ry="2.3" fill="#4e8c30" transform="rotate(-21 64.7 161.5)"/><ellipse cx="53.3" cy="124.5" rx="6.4" ry="1.7" fill="#7ab83c" transform="rotate(-86 53.3 124.5)"/><ellipse cx="58.3" cy="107.0" rx="9.1" ry="1.9" fill="#7ab83c" transform="rotate(-76 58.3 107.0)"/><ellipse cx="32.8" cy="117.5" rx="8.4" ry="2.0" fill="#4e8c30" transform="rotate(-110 32.8 117.5)"/><ellipse cx="36.8" cy="127.1" rx="7.9" ry="2.6" fill="#2f6424" transform="rotate(-125 36.8 127.1)"/><ellipse cx="45.5" cy="153.9" rx="5.6" ry="2.2" fill="#7ab83c" transform="rotate(-127 45.5 153.9)"/><ellipse cx="77.0" cy="142.2" rx="7.0" ry="1.9" fill="#2f6424" transform="rotate(-61 77.0 142.2)"/><ellipse cx="44.9" cy="150.5" rx="8.2" ry="2.6" fill="#4e8c30" transform="rotate(-103 44.9 150.5)"/><ellipse cx="63.6" cy="113.9" rx="8.1" ry="1.9" fill="#6aa840" transform="rotate(-70 63.6 113.9)"/><ellipse cx="60.1" cy="113.1" rx="7.0" ry="1.6" fill="#8cc24a" transform="rotate(-102 60.1 113.1)"/><ellipse cx="41.1" cy="107.6" rx="7.0" ry="2.4" fill="#6aa840" transform="rotate(-92 41.1 107.6)"/><ellipse cx="56.5" cy="159.2" rx="5.8" ry="1.6" fill="#4e8c30" transform="rotate(-48 56.5 159.2)"/><ellipse cx="27.2" cy="129.7" rx="7.4" ry="2.7" fill="#5a8f7a" transform="rotate(-107 27.2 129.7)"/><ellipse cx="67.1" cy="135.4" rx="9.1" ry="1.7" fill="#a6cf6a" transform="rotate(-44 67.1 135.4)"/><ellipse cx="49.6" cy="98.9" rx="6.7" ry="2.3" fill="#5a8f7a" transform="rotate(-67 49.6 98.9)"/><ellipse cx="75.3" cy="148.1" rx="5.9" ry="2.5" fill="#5f9e34" transform="rotate(-26 75.3 148.1)"/><ellipse cx="69.1" cy="105.7" rx="7.4" ry="2.5" fill="#6aa840" transform="rotate(-44 69.1 105.7)"/><ellipse cx="57.2" cy="109.5" rx="5.2" ry="2.0" fill="#a6cf6a" transform="rotate(-83 57.2 109.5)"/><ellipse cx="50.5" cy="146.2" rx="5.3" ry="2.6" fill="#3f7a2a" transform="rotate(-73 50.5 146.2)"/><ellipse cx="65.1" cy="129.6" rx="9.5" ry="2.7" fill="#5a8f7a" transform="rotate(-70 65.1 129.6)"/><ellipse cx="63.0" cy="151.1" rx="9.3" ry="1.7" fill="#2f6424" transform="rotate(-50 63.0 151.1)"/><ellipse cx="54.8" cy="122.8" rx="5.7" ry="2.2" fill="#5a8f7a" transform="rotate(-81 54.8 122.8)"/><ellipse cx="59.4" cy="109.0" rx="7.7" ry="2.0" fill="#3f7a2a" transform="rotate(-59 59.4 109.0)"/><ellipse cx="51.9" cy="159.9" rx="7.4" ry="2.2" fill="#a6cf6a" transform="rotate(-98 51.9 159.9)"/><ellipse cx="59.8" cy="90.0" rx="8.6" ry="2.3" fill="#4e8c30" transform="rotate(-89 59.8 90.0)"/><ellipse cx="40.6" cy="95.9" rx="9.1" ry="2.6" fill="#a6cf6a" transform="rotate(-101 40.6 95.9)"/><ellipse cx="50.2" cy="110.0" rx="8.7" ry="2.7" fill="#4e8c30" transform="rotate(-95 50.2 110.0)"/><ellipse cx="28.6" cy="129.0" rx="6.2" ry="2.4" fill="#7ab83c" transform="rotate(-150 28.6 129.0)"/><ellipse cx="46.2" cy="90.7" rx="8.3" ry="1.9" fill="#4e8c30" transform="rotate(-107 46.2 90.7)"/><ellipse cx="55.7" cy="96.9" rx="6.1" ry="1.8" fill="#5a8f7a" transform="rotate(-85 55.7 96.9)"/><ellipse cx="27.5" cy="153.8" rx="7.8" ry="2.2" fill="#5a8f7a" transform="rotate(-135 27.5 153.8)"/><ellipse cx="53.5" cy="137.1" rx="8.9" ry="1.9" fill="#6aa840" transform="rotate(-78 53.5 137.1)"/><ellipse cx="44.0" cy="155.4" rx="6.0" ry="2.8" fill="#5f9e34" transform="rotate(-101 44.0 155.4)"/><ellipse cx="42.6" cy="99.3" rx="5.4" ry="2.6" fill="#a6cf6a" transform="rotate(-112 42.6 99.3)"/><ellipse cx="61.4" cy="130.3" rx="8.6" ry="1.7" fill="#6aa840" transform="rotate(-66 61.4 130.3)"/><ellipse cx="66.2" cy="156.0" rx="8.4" ry="2.2" fill="#2f6424" transform="rotate(-30 66.2 156.0)"/><ellipse cx="50.3" cy="148.6" rx="7.8" ry="2.7" fill="#4e8c30" transform="rotate(-77 50.3 148.6)"/><ellipse cx="43.3" cy="100.3" rx="9.5" ry="2.7" fill="#5f9e34" transform="rotate(-76 43.3 100.3)"/><ellipse cx="25.0" cy="132.9" rx="5.4" ry="2.1" fill="#a6cf6a" transform="rotate(-154 25.0 132.9)"/><ellipse cx="46.6" cy="128.3" rx="8.2" ry="2.6" fill="#3f7a2a" transform="rotate(-126 46.6 128.3)"/><ellipse cx="44.4" cy="120.5" rx="7.7" ry="1.7" fill="#7ab83c" transform="rotate(-73 44.4 120.5)"/><ellipse cx="28.9" cy="114.2" rx="9.1" ry="2.7" fill="#2f6424" transform="rotate(-91 28.9 114.2)"/><ellipse cx="84.3" cy="127.5" rx="9.1" ry="2.5" fill="#3f7a2a" transform="rotate(-63 84.3 127.5)"/><ellipse cx="44.8" cy="149.4" rx="8.1" ry="2.5" fill="#3f7a2a" transform="rotate(-89 44.8 149.4)"/><ellipse cx="59.5" cy="120.3" rx="7.1" ry="1.6" fill="#6aa840" transform="rotate(-89 59.5 120.3)"/><ellipse cx="60.6" cy="161.4" rx="9.3" ry="2.0" fill="#2f6424" transform="rotate(-34 60.6 161.4)"/><ellipse cx="56.0" cy="138.6" rx="9.5" ry="2.4" fill="#5f9e34" transform="rotate(-86 56.0 138.6)"/><ellipse cx="71.9" cy="145.7" rx="8.3" ry="1.9" fill="#a6cf6a" transform="rotate(-36 71.9 145.7)"/><ellipse cx="67.6" cy="127.5" rx="6.2" ry="1.9" fill="#6aa840" transform="rotate(-95 67.6 127.5)"/><ellipse cx="51.6" cy="130.8" rx="9.5" ry="2.4" fill="#5f9e34" transform="rotate(-85 51.6 130.8)"/><ellipse cx="64.2" cy="130.7" rx="9.2" ry="2.1" fill="#3f7a2a" transform="rotate(-76 64.2 130.7)"/><ellipse cx="53.2" cy="152.2" rx="7.2" ry="1.9" fill="#a6cf6a" transform="rotate(-85 53.2 152.2)"/><ellipse cx="43.3" cy="134.2" rx="7.5" ry="1.9" fill="#8cc24a" transform="rotate(-95 43.3 134.2)"/><ellipse cx="56.3" cy="89.9" rx="6.8" ry="2.4" fill="#7ab83c" transform="rotate(-78 56.3 89.9)"/><ellipse cx="59.0" cy="155.0" rx="9.3" ry="1.7" fill="#2f6424" transform="rotate(-22 59.0 155.0)"/><ellipse cx="49.5" cy="122.1" rx="7.4" ry="2.7" fill="#4e8c30" transform="rotate(-107 49.5 122.1)"/><ellipse cx="62.5" cy="100.1" rx="5.2" ry="2.1" fill="#5f9e34" transform="rotate(-68 62.5 100.1)"/><ellipse cx="35.3" cy="104.9" rx="7.0" ry="2.4" fill="#4e8c30" transform="rotate(-127 35.3 104.9)"/><ellipse cx="61.2" cy="134.4" rx="8.3" ry="2.6" fill="#3f7a2a" transform="rotate(-80 61.2 134.4)"/><ellipse cx="58.3" cy="158.8" rx="9.0" ry="2.5" fill="#6aa840" transform="rotate(-64 58.3 158.8)"/><ellipse cx="56.0" cy="110.4" rx="5.9" ry="1.9" fill="#2f6424" transform="rotate(-73 56.0 110.4)"/><ellipse cx="40.3" cy="103.8" rx="9.0" ry="1.6" fill="#7ab83c" transform="rotate(-75 40.3 103.8)"/><ellipse cx="48.1" cy="88.1" rx="6.0" ry="1.9" fill="#5f9e34" transform="rotate(-120 48.1 88.1)"/><ellipse cx="39.1" cy="156.1" rx="7.2" ry="2.0" fill="#6aa840" transform="rotate(-114 39.1 156.1)"/><ellipse cx="64.5" cy="115.7" rx="5.5" ry="2.6" fill="#2f6424" transform="rotate(-100 64.5 115.7)"/><ellipse cx="63.5" cy="123.1" rx="5.7" ry="2.6" fill="#6aa840" transform="rotate(-94 63.5 123.1)"/><ellipse cx="63.9" cy="111.7" rx="7.9" ry="2.3" fill="#4e8c30" transform="rotate(-95 63.9 111.7)"/><ellipse cx="36.2" cy="153.5" rx="7.2" ry="2.4" fill="#8cc24a" transform="rotate(-138 36.2 153.5)"/><ellipse cx="28.1" cy="150.0" rx="7.7" ry="2.4" fill="#4e8c30" transform="rotate(-122 28.1 150.0)"/><ellipse cx="62.0" cy="143.2" rx="6.6" ry="2.5" fill="#6aa840" transform="rotate(-85 62.0 143.2)"/><ellipse cx="43.7" cy="155.6" rx="9.1" ry="2.4" fill="#8cc24a" transform="rotate(-122 43.7 155.6)"/><ellipse cx="65.4" cy="122.7" rx="6.8" ry="2.7" fill="#5a8f7a" transform="rotate(-82 65.4 122.7)"/><ellipse cx="46.1" cy="108.4" rx="6.8" ry="2.1" fill="#2f6424" transform="rotate(-103 46.1 108.4)"/><ellipse cx="43.2" cy="144.1" rx="7.7" ry="1.8" fill="#5f9e34" transform="rotate(-131 43.2 144.1)"/><ellipse cx="71.1" cy="145.5" rx="7.3" ry="2.3" fill="#8cc24a" transform="rotate(-73 71.1 145.5)"/><ellipse cx="57.2" cy="159.7" rx="7.5" ry="2.5" fill="#5f9e34" transform="rotate(-66 57.2 159.7)"/><ellipse cx="43.1" cy="115.0" rx="5.1" ry="2.4" fill="#5f9e34" transform="rotate(-110 43.1 115.0)"/><ellipse cx="58.9" cy="144.6" rx="8.4" ry="2.2" fill="#4e8c30" transform="rotate(-86 58.9 144.6)"/><ellipse cx="40.7" cy="119.5" rx="7.2" ry="2.2" fill="#5f9e34" transform="rotate(-92 40.7 119.5)"/><ellipse cx="77.3" cy="142.0" rx="8.0" ry="2.6" fill="#a6cf6a" transform="rotate(-22 77.3 142.0)"/><ellipse cx="76.2" cy="150.7" rx="7.4" ry="2.5" fill="#5f9e34" transform="rotate(-21 76.2 150.7)"/><ellipse cx="47.7" cy="121.5" rx="9.5" ry="2.1" fill="#3f7a2a" transform="rotate(-80 47.7 121.5)"/><ellipse cx="46.0" cy="114.0" rx="9.0" ry="2.2" fill="#5f9e34" transform="rotate(-109 46.0 114.0)"/><ellipse cx="32.7" cy="112.6" rx="8.4" ry="1.6" fill="#4e8c30" transform="rotate(-85 32.7 112.6)"/><ellipse cx="35.9" cy="155.8" rx="6.0" ry="1.9" fill="#4e8c30" transform="rotate(-168 35.9 155.8)"/><ellipse cx="36.2" cy="134.0" rx="5.8" ry="2.5" fill="#8cc24a" transform="rotate(-129 36.2 134.0)"/><ellipse cx="81.9" cy="136.3" rx="7.2" ry="2.1" fill="#6aa840" transform="rotate(-22 81.9 136.3)"/><ellipse cx="65.6" cy="138.6" rx="6.8" ry="1.9" fill="#3f7a2a" transform="rotate(-39 65.6 138.6)"/><ellipse cx="44.5" cy="148.5" rx="6.2" ry="2.8" fill="#2f6424" transform="rotate(-110 44.5 148.5)"/><ellipse cx="71.4" cy="154.7" rx="6.1" ry="2.1" fill="#3f7a2a" transform="rotate(-30 71.4 154.7)"/><ellipse cx="62.2" cy="121.0" rx="8.6" ry="1.8" fill="#8cc24a" transform="rotate(-51 62.2 121.0)"/><ellipse cx="23.3" cy="128.3" rx="5.9" ry="2.7" fill="#3f7a2a" transform="rotate(-146 23.3 128.3)"/><ellipse cx="31.9" cy="149.9" rx="5.4" ry="2.2" fill="#4e8c30" transform="rotate(-129 31.9 149.9)"/><ellipse cx="57.1" cy="95.0" rx="5.1" ry="1.8" fill="#2f6424" transform="rotate(-85 57.1 95.0)"/><ellipse cx="31.0" cy="156.4" rx="7.4" ry="2.2" fill="#3f7a2a" transform="rotate(-174 31.0 156.4)"/><ellipse cx="66.5" cy="158.4" rx="7.5" ry="2.8" fill="#5f9e34" transform="rotate(-29 66.5 158.4)"/><ellipse cx="57.8" cy="116.9" rx="7.1" ry="2.8" fill="#5f9e34" transform="rotate(-88 57.8 116.9)"/><ellipse cx="19.3" cy="138.2" rx="6.1" ry="2.3" fill="#4e8c30" transform="rotate(-127 19.3 138.2)"/><ellipse cx="76.2" cy="146.4" rx="9.1" ry="1.8" fill="#a6cf6a" transform="rotate(-23 76.2 146.4)"/><ellipse cx="63.2" cy="157.8" rx="7.5" ry="1.7" fill="#2f6424" transform="rotate(-15 63.2 157.8)"/><ellipse cx="58.1" cy="104.6" rx="7.5" ry="2.5" fill="#6aa840" transform="rotate(-57 58.1 104.6)"/><ellipse cx="46.1" cy="123.3" rx="5.6" ry="2.4" fill="#3f7a2a" transform="rotate(-89 46.1 123.3)"/><ellipse cx="47.2" cy="103.0" rx="5.4" ry="1.9" fill="#3f7a2a" transform="rotate(-88 47.2 103.0)"/><ellipse cx="48.5" cy="161.1" rx="8.7" ry="2.7" fill="#3f7a2a" transform="rotate(-132 48.5 161.1)"/><ellipse cx="73.0" cy="137.7" rx="6.5" ry="2.1" fill="#7ab83c" transform="rotate(-58 73.0 137.7)"/><ellipse cx="57.5" cy="143.3" rx="6.1" ry="2.8" fill="#5a8f7a" transform="rotate(-56 57.5 143.3)"/><ellipse cx="48.3" cy="89.1" rx="5.5" ry="2.1" fill="#5a8f7a" transform="rotate(-83 48.3 89.1)"/><ellipse cx="43.8" cy="114.9" rx="6.1" ry="2.2" fill="#8cc24a" transform="rotate(-85 43.8 114.9)"/><ellipse cx="41.9" cy="130.7" rx="8.2" ry="2.8" fill="#5a8f7a" transform="rotate(-126 41.9 130.7)"/><ellipse cx="59.1" cy="161.9" rx="5.1" ry="2.4" fill="#5f9e34" transform="rotate(-17 59.1 161.9)"/><ellipse cx="50.4" cy="99.5" rx="5.4" ry="2.6" fill="#8cc24a" transform="rotate(-101 50.4 99.5)"/><ellipse cx="24.5" cy="124.5" rx="9.1" ry="2.3" fill="#5a8f7a" transform="rotate(-145 24.5 124.5)"/><ellipse cx="58.4" cy="93.3" rx="9.0" ry="2.0" fill="#3f7a2a" transform="rotate(-69 58.4 93.3)"/><ellipse cx="58.8" cy="98.3" rx="6.1" ry="2.3" fill="#3f7a2a" transform="rotate(-59 58.8 98.3)"/><ellipse cx="52.2" cy="103.5" rx="5.8" ry="2.8" fill="#3f7a2a" transform="rotate(-117 52.2 103.5)"/><ellipse cx="59.4" cy="113.0" rx="7.7" ry="2.6" fill="#7ab83c" transform="rotate(-88 59.4 113.0)"/><ellipse cx="49.0" cy="101.3" rx="5.5" ry="2.1" fill="#6aa840" transform="rotate(-90 49.0 101.3)"/><ellipse cx="36.3" cy="128.6" rx="7.9" ry="1.6" fill="#3f7a2a" transform="rotate(-122 36.3 128.6)"/><ellipse cx="50.9" cy="120.1" rx="9.0" ry="2.7" fill="#a6cf6a" transform="rotate(-99 50.9 120.1)"/><ellipse cx="49.9" cy="145.0" rx="8.8" ry="2.1" fill="#a6cf6a" transform="rotate(-73 49.9 145.0)"/><ellipse cx="37.9" cy="97.9" rx="7.3" ry="2.1" fill="#7ab83c" transform="rotate(-111 37.9 97.9)"/><ellipse cx="28.8" cy="113.9" rx="8.3" ry="2.3" fill="#8cc24a" transform="rotate(-90 28.8 113.9)"/><ellipse cx="65.5" cy="154.0" rx="6.1" ry="2.6" fill="#7ab83c" transform="rotate(-16 65.5 154.0)"/><ellipse cx="23.5" cy="125.4" rx="8.0" ry="2.7" fill="#5f9e34" transform="rotate(-122 23.5 125.4)"/><ellipse cx="59.7" cy="162.0" rx="7.5" ry="2.3" fill="#3f7a2a" transform="rotate(-27 59.7 162.0)"/><ellipse cx="60.2" cy="106.3" rx="5.4" ry="2.6" fill="#5f9e34" transform="rotate(-57 60.2 106.3)"/><ellipse cx="54.3" cy="154.0" rx="8.3" ry="1.6" fill="#3f7a2a" transform="rotate(-85 54.3 154.0)"/><ellipse cx="61.3" cy="93.2" rx="6.6" ry="2.3" fill="#7ab83c" transform="rotate(-88 61.3 93.2)"/><ellipse cx="49.3" cy="112.9" rx="5.6" ry="2.5" fill="#4e8c30" transform="rotate(-102 49.3 112.9)"/><ellipse cx="34.6" cy="153.8" rx="5.3" ry="2.0" fill="#6aa840" transform="rotate(-134 34.6 153.8)"/><ellipse cx="28.4" cy="155.2" rx="7.5" ry="2.2" fill="#2f6424" transform="rotate(-145 28.4 155.2)"/><ellipse cx="60.4" cy="103.9" rx="8.3" ry="2.0" fill="#8cc24a" transform="rotate(-105 60.4 103.9)"/><ellipse cx="58.9" cy="153.1" rx="9.2" ry="2.1" fill="#5f9e34" transform="rotate(-45 58.9 153.1)"/><ellipse cx="59.9" cy="102.2" rx="6.2" ry="2.5" fill="#5a8f7a" transform="rotate(-70 59.9 102.2)"/><ellipse cx="70.0" cy="138.9" rx="9.0" ry="2.3" fill="#2f6424" transform="rotate(-44 70.0 138.9)"/><ellipse cx="61.9" cy="160.5" rx="5.6" ry="2.4" fill="#4e8c30" transform="rotate(-39 61.9 160.5)"/><ellipse cx="49.0" cy="160.9" rx="5.2" ry="2.3" fill="#8cc24a" transform="rotate(-114 49.0 160.9)"/><ellipse cx="46.1" cy="129.9" rx="9.4" ry="1.8" fill="#3f7a2a" transform="rotate(-118 46.1 129.9)"/><ellipse cx="52.6" cy="110.8" rx="9.4" ry="1.6" fill="#4e8c30" transform="rotate(-64 52.6 110.8)"/><ellipse cx="53.5" cy="156.3" rx="5.3" ry="1.7" fill="#6aa840" transform="rotate(-51 53.5 156.3)"/><ellipse cx="50.5" cy="114.0" rx="8.7" ry="2.4" fill="#5a8f7a" transform="rotate(-103 50.5 114.0)"/><ellipse cx="53.1" cy="144.5" rx="5.5" ry="2.1" fill="#4e8c30" transform="rotate(-68 53.1 144.5)"/><ellipse cx="34.0" cy="130.6" rx="6.2" ry="2.3" fill="#4e8c30" transform="rotate(-103 34.0 130.6)"/><ellipse cx="36.1" cy="109.4" rx="7.0" ry="2.7" fill="#6aa840" transform="rotate(-132 36.1 109.4)"/><ellipse cx="36.5" cy="100.7" rx="7.0" ry="1.9" fill="#7ab83c" transform="rotate(-107 36.5 100.7)"/><ellipse cx="60.7" cy="94.1" rx="8.6" ry="1.9" fill="#3f7a2a" transform="rotate(-80 60.7 94.1)"/><ellipse cx="49.2" cy="92.4" rx="8.3" ry="2.5" fill="#4e8c30" transform="rotate(-72 49.2 92.4)"/><ellipse cx="57.4" cy="95.5" rx="5.7" ry="2.4" fill="#4e8c30" transform="rotate(-99 57.4 95.5)"/><ellipse cx="49.2" cy="93.1" rx="9.4" ry="1.7" fill="#4e8c30" transform="rotate(-108 49.2 93.1)"/><ellipse cx="55.8" cy="145.3" rx="7.3" ry="2.8" fill="#7ab83c" transform="rotate(-62 55.8 145.3)"/><ellipse cx="62.6" cy="107.8" rx="6.3" ry="2.1" fill="#5f9e34" transform="rotate(-85 62.6 107.8)"/><ellipse cx="58.0" cy="160.1" rx="7.8" ry="2.0" fill="#5f9e34" transform="rotate(-7 58.0 160.1)"/><ellipse cx="35.3" cy="130.9" rx="6.6" ry="2.0" fill="#2f6424" transform="rotate(-89 35.3 130.9)"/><ellipse cx="48.9" cy="91.1" rx="6.5" ry="2.4" fill="#3f7a2a" transform="rotate(-118 48.9 91.1)"/><ellipse cx="43.9" cy="124.5" rx="8.5" ry="1.9" fill="#6aa840" transform="rotate(-107 43.9 124.5)"/><ellipse cx="64.1" cy="108.3" rx="6.8" ry="2.3" fill="#8cc24a" transform="rotate(-78 64.1 108.3)"/><ellipse cx="50.4" cy="125.2" rx="7.2" ry="2.2" fill="#a6cf6a" transform="rotate(-110 50.4 125.2)"/><ellipse cx="55.1" cy="94.1" rx="5.1" ry="1.8" fill="#8cc24a" transform="rotate(-100 55.1 94.1)"/><ellipse cx="55.3" cy="128.1" rx="5.5" ry="1.7" fill="#6aa840" transform="rotate(-100 55.3 128.1)"/><ellipse cx="42.1" cy="99.5" rx="9.5" ry="2.6" fill="#4e8c30" transform="rotate(-121 42.1 99.5)"/><ellipse cx="59.2" cy="95.0" rx="7.3" ry="1.7" fill="#a6cf6a" transform="rotate(-67 59.2 95.0)"/><ellipse cx="50.4" cy="134.9" rx="5.6" ry="1.9" fill="#a6cf6a" transform="rotate(-90 50.4 134.9)"/><ellipse cx="52.8" cy="121.7" rx="6.2" ry="2.5" fill="#a6cf6a" transform="rotate(-75 52.8 121.7)"/></g>
    <!-- pot -->
    <path d="M29 192 Q48.5 186 68 192 L66 226 Q48.5 234 31 226Z" fill="#d8d6d1"/>
    <ellipse cx="48.5" cy="192" rx="19.5" ry="5" fill="#b8925f"/>
    <!-- back chairs -->
    <path d="M206 134 Q219 128 232 134 L232 150 L206 150Z" fill="#4a4e56"/>
    <path d="M243 141 Q260 134 277 141 L277 162 L243 162Z" fill="#cbcac6"/>
    <path d="M318 158 Q327 154 336 157 L336 176 L317 176Z" fill="#4c5158"/>
    <!-- table -->
    <polygon points="121,143 150,136 336,176.2 336,214 121,146.6" fill="#83593a"/>
    <polygon points="150,138 336,178 336,190 200,156" fill="#93694a" opacity="0.6"/>
    <polygon points="121,146.6 336,214 336,220 121,152" fill="#3d281c"/>
    <rect x="122.4" y="146" width="7.8" height="53" fill="#2e2019"/>
    <rect x="234.4" y="185" width="21" height="67" fill="#3a271d"/>
    <!-- light chair near TV -->
    <path d="M131 144 Q150 136 171 146 L175 186 Q152 196 134 186Z" fill="#bfc1be"/>
    <path d="M137 188 L133 228 M170 190 L174 222" stroke="#26201c" stroke-width="2.4"/>
    <!-- dark chair -->
    <path d="M174 158 Q195 150 216 162 L222 208 Q198 220 178 210Z" fill="#3c434e"/>
    <path d="M181 212 L175 246 M215 212 L210 252" stroke="#1f1c1a" stroke-width="2.6"/>
    <!-- front light chair -->
    <path d="M271 196 Q272 185 285 186 Q315 194 336 205 L336 252 L270 252Z" fill="#c2c6c9"/>
  </svg>
  <!-- FIG3/4 shared body -->
  <symbol id="body" overflow="visible">
    <g clip-path="url(#cc)" stroke="#231815" stroke-width="2.6" stroke-linejoin="round" stroke-linecap="round">
      <path d="M-95 85 L-95 60 L-39.1 32.2 L-22.8 16.9 L20.5 16.9 L37.9 32.2 L95 60 L95 85Z" fill="currentColor" stroke="none"/>
      <path d="M-95 59.5 L-39.1 32.2 L-22.8 16.9 M95 59.5 L37.9 32.2 L21.8 16.9" fill="none" stroke-width="2.6"/>
      <path d="M-20.7 8 L-21.4 19 L-0.5 57.9 L20 19 L19.5 8Z" fill="#fff" stroke="none"/>
      <path d="M-20 10 L-20.7 18.3 M19 10 L19.7 18.3" fill="none"/>
      <path d="M-20 20.4 L-0.5 28 L19 20.4" fill="none"/>
      <path d="M-21.4 19 L-0.5 57.9 L20.4 19" fill="none" stroke-width="2.6"/>
      <path d="M-39.1 32.2 L-41.5 50.2 L-19.3 46.1 L-11 53.3 M37.9 32.2 L40.5 50.2 L18.3 46.1 L10 53.3" fill="none" stroke-width="2.6"/>
      <path d="M-7.5 30.1 L7.1 30.1 L5.7 42.6 L-6.1 42.6Z" fill="var(--tie)" stroke-width="2"/>
      <path d="M-5.2 44.6 L4.6 44.6 L3.6 53 L-0.3 57.3 L-4.2 53Z" fill="var(--tie)" stroke-width="2"/>
      <path d="M-0.5 57.9 L-0.5 82" fill="none"/>
      <path d="M-48.3 62.7 L-21.1 62.7 L-21.1 71.5 L-33.9 72.1 M48.7 62.7 L20.5 62.7 L20.5 71.5 L33.8 72.1" fill="none" stroke-width="2.6"/>
    </g>
  </symbol>
  <!-- FIG3: man with tie -->
  <g transform="translate(376.5,580)" stroke="#231815" stroke-width="2.6" stroke-linejoin="round" stroke-linecap="round">
    <path d="M-33 -20 C-34.5 -40 -33 -52 -26 -60 C-19 -68 -10 -70.5 -1 -70.5 C10 -70.5 20 -66 26 -58 C31 -50 31.5 -38 30.5 -20Z" fill="#231815" stroke="none"/>
    <use href="#body" style="color:#0068b7;--tie:#0068b7"/>
    <path d="M-28 -24 C-37 -26 -37.5 -9 -26 -9" fill="#fff"/>
    <path d="M25 -24 C34 -26 34.5 -9 23 -9" fill="#fff"/>
    <path d="M-16.1 -51.3 L14.2 -50.6 L24.1 -23.6 L21.4 -9.1 C20 -2 18 3 16.2 6.7 C12 12 6 15.9 -1 15.9 C-8 15.9 -15 12 -19.4 6.7 C-21.5 3 -23.5 -2 -24.7 -9.1 L-27.3 -23.6Z" fill="#fff" stroke="none"/>
    <path d="M-26 -18 L-24.7 -9.1 C-23.5 -2 -21.5 3 -19.4 6.7 C-15 12 -8 15.9 -1 15.9 C6 15.9 12 12 16.2 6.7 C18 3 20 -2 21.4 -9.1 L22.6 -18" fill="none"/>
  </g>
  <!-- FIG4: helmet, grey -->
  <g transform="translate(2038,580)" stroke="#231815" stroke-width="2.6" stroke-linejoin="round" stroke-linecap="round">
    <use href="#body" style="color:#c9caca;--tie:#1b6fc0"/>
    <path d="M-33.5 -38 L-20 -38 L-19 4 L-23.5 -5 L-30 -19Z" fill="#231815" stroke="none"/>
    <path d="M31 -38 L19 -38 L17 4 L21.5 -5 L27.5 -19Z" fill="#231815" stroke="none"/>
    <path d="M-32 -37 L-29.5 -37 L-21.5 -1 L-23 -1Z" fill="#c9caca" stroke="none"/>
    <path d="M29.5 -37 L27 -37 L19.5 -1 L21 -1Z" fill="#c9caca" stroke="none"/>
    <path d="M-31.5 -23.5 C-39.5 -25 -40 -9 -30 -9" fill="#fff"/>
    <path d="M29.5 -23.5 C37.5 -25 38 -9 28 -9" fill="#fff"/>
    <path d="M-25 -38 C-24 -25 -23.5 -15 -22.9 -7.9 C-21.5 -1 -20 3 -17.3 6 C-13 11.5 -7 15.7 -1.4 15.7 C5 15.7 11 11.5 15.2 6 C18 3 20 -1 21.5 -7.9 C22.3 -15 23 -25 23.6 -38Z" fill="#fff"/>
    <path d="M9.5 -38 C12 -30 17 -25.5 22.4 -24 L24 -38Z" fill="#231815" stroke="none"/>
    <path d="M-24.6 -38 L-21 -38 C-22 -33 -23 -29 -24.2 -27Z" fill="#231815" stroke="none"/>
    <path d="M-36.1 -42.6 C-35.5 -56 -26 -68 -17.3 -72 Q-0.7 -78.5 15.9 -72 C25 -68 34.8 -56 35.3 -42.6Z" fill="#fff" stroke-width="2.6"/>
    <path d="M-38 -37 Q-42 -38 -39.5 -41.5 Q-38.5 -43 -34.5 -43.5 Q-1 -50 32.5 -43.5 Q36.5 -43 37.5 -41.5 Q40 -38 36.5 -37 Q-1 -40.5 -38 -37Z" fill="#fff" stroke-width="2.6"/>
    <path d="M-17.3 -71.7 L-18.7 -48.8 M15.9 -71.7 L17.3 -49.5" fill="none"/>
  </g>
</svg>

<div id="t1" class="t h" style="left:171.2px;top:37.8px;letter-spacing:-0.82px;">取り組みを希望する現場社員</div>
<div id="t2" class="t h" style="left:1024.1px;top:38.7px;letter-spacing:-1.06px;">サポート部門</div>
<div id="t3" class="t h" style="left:298.4px;top:447.1px;letter-spacing:-0.85px;">本部系社員</div>
<div id="t4" class="t h" style="left:1956.4px;top:446.1px;letter-spacing:-0.38px;">リース会社</div>
<div id="l1" class="t n" style="left:43.0px;top:203.0px;letter-spacing:-0.94px;">現場ごとのニーズを</div>
<div id="l2" class="t n" style="left:56.0px;top:244.6px;letter-spacing:-0.43px;">効率的に抽出する</div>
<div id="l3" class="t n" style="left:28.3px;top:285.9px;letter-spacing:-1.06px;">「ヒアリングシート」</div>
<div id="f1" class="t b" style="left:65.3px;top:366.4px;letter-spacing:-0.71px;">取り組み改善のための</div>
<div id="f2" class="t b" style="left:107.3px;top:401.4px;letter-spacing:-1.22px;">フィードバック</div>
<div id="r1" class="t n" style="left:461.5px;top:638.8px;letter-spacing:-0.51px;">ルール作り・運用改善</div>
<div id="c1" class="t n" style="left:1548.5px;top:118.3px;letter-spacing:-0.65px;">調整・仲介</div>
<div id="p1" class="t n" style="left:1512.7px;top:639.2px;letter-spacing:-0.20px;">提案・実装</div>
<div id="bh" class="t bh" style="left:562.9px;top:303.6px;letter-spacing:-0.52px;">取り組みの内容（一例）</div>
<div id="b1" class="t n" style="left:563.5px;top:356.1px;letter-spacing:-0.34px;"><b>創造的な作業</b>：多機能ディスプレイ</div>
<div id="b2" class="t n" style="left:562.6px;top:399.7px;letter-spacing:-0.82px;"><b>コミュニケーション促進</b>：カフェスペース</div>
<div id="b3" class="t n" style="left:563.7px;top:443.8px;letter-spacing:-0.33px;"><b>集中力向上</b>：照明制御</div>
<div id="b4" class="t n" style="left:561.9px;top:488.6px;letter-spacing:-1.09px;"><b>リラックス</b>：バイオフィリックデザイン（植栽、木目調什器など）、アロマ</div>
</body>
</html>
